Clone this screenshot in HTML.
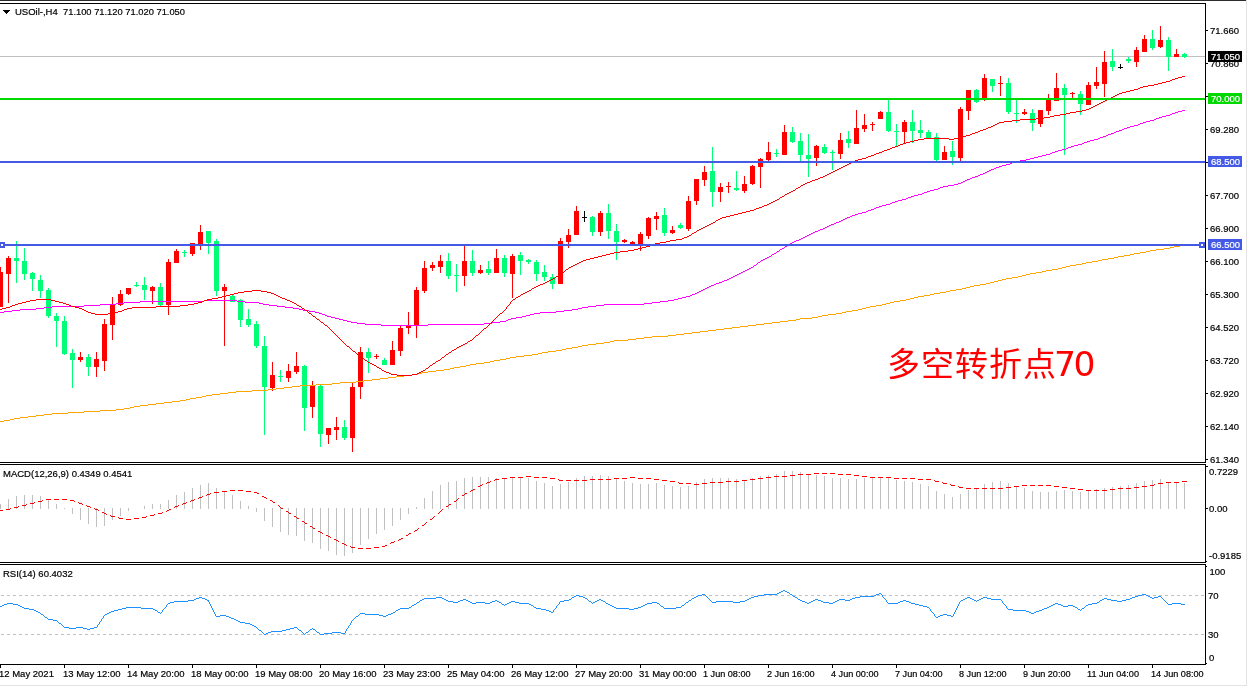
<!DOCTYPE html>
<html><head><meta charset="utf-8"><title>USOil H4</title>
<style>
html,body{margin:0;padding:0;background:#fff;overflow:hidden}
svg{display:block}
text{font-family:'Liberation Sans',sans-serif}
</style></head><body>
<svg width="1248" height="687" viewBox="0 0 1248 687">
<rect width="1248" height="687" fill="#fff"/>
<g shape-rendering="crispEdges">
<rect x="0" y="0" width="1246" height="1" fill="#2c2c2c"/>
<rect x="1246" y="0" width="1" height="686" fill="#e3e3e3"/>
<rect x="0" y="685" width="1246" height="1" fill="#e3e3e3"/>
<rect x="0" y="56" width="1205" height="1" fill="#c0c0c0"/>
<rect x="0" y="267" width="1" height="40" fill="#ff0000"/>
<rect x="-2" y="272" width="5" height="35" fill="#ff0000"/>
<rect x="8" y="256" width="1" height="47" fill="#ff0000"/>
<rect x="6" y="258" width="5" height="16" fill="#ff0000"/>
<rect x="16" y="241" width="1" height="42" fill="#00ff76"/>
<rect x="14" y="258" width="5" height="3" fill="#00ff76"/>
<rect x="24" y="248" width="1" height="32" fill="#00ff76"/>
<rect x="22" y="261" width="5" height="13" fill="#00ff76"/>
<rect x="32" y="272" width="1" height="19" fill="#00ff76"/>
<rect x="30" y="273" width="5" height="6" fill="#00ff76"/>
<rect x="40" y="275" width="1" height="23" fill="#00ff76"/>
<rect x="38" y="280" width="5" height="11" fill="#00ff76"/>
<rect x="48" y="288" width="1" height="30" fill="#00ff76"/>
<rect x="46" y="290" width="5" height="26" fill="#00ff76"/>
<rect x="56" y="313" width="1" height="34" fill="#00ff76"/>
<rect x="54" y="316" width="5" height="5" fill="#00ff76"/>
<rect x="64" y="316" width="1" height="39" fill="#00ff76"/>
<rect x="62" y="321" width="5" height="33" fill="#00ff76"/>
<rect x="72" y="349" width="1" height="39" fill="#00ff76"/>
<rect x="70" y="353" width="5" height="7" fill="#00ff76"/>
<rect x="80" y="352" width="1" height="10" fill="#ff0000"/>
<rect x="78" y="357" width="5" height="3" fill="#ff0000"/>
<rect x="88" y="354" width="1" height="22" fill="#00ff76"/>
<rect x="86" y="357" width="5" height="10" fill="#00ff76"/>
<rect x="96" y="352" width="1" height="25" fill="#ff0000"/>
<rect x="94" y="359" width="5" height="8" fill="#ff0000"/>
<rect x="104" y="319" width="1" height="52" fill="#ff0000"/>
<rect x="102" y="324" width="5" height="37" fill="#ff0000"/>
<rect x="112" y="297" width="1" height="43" fill="#ff0000"/>
<rect x="110" y="305" width="5" height="20" fill="#ff0000"/>
<rect x="120" y="290" width="1" height="16" fill="#ff0000"/>
<rect x="118" y="294" width="5" height="11" fill="#ff0000"/>
<rect x="128" y="288" width="1" height="7" fill="#ff0000"/>
<rect x="126" y="288" width="5" height="6" fill="#ff0000"/>
<rect x="136" y="282" width="1" height="5" fill="#00ff76"/>
<rect x="134" y="285" width="5" height="1" fill="#00ff76"/>
<rect x="144" y="277" width="1" height="23" fill="#00ff76"/>
<rect x="142" y="285" width="5" height="5" fill="#00ff76"/>
<rect x="152" y="286" width="1" height="18" fill="#ff0000"/>
<rect x="150" y="287" width="5" height="4" fill="#ff0000"/>
<rect x="160" y="283" width="1" height="23" fill="#00ff76"/>
<rect x="158" y="287" width="5" height="18" fill="#00ff76"/>
<rect x="168" y="259" width="1" height="56" fill="#ff0000"/>
<rect x="166" y="262" width="5" height="43" fill="#ff0000"/>
<rect x="176" y="249" width="1" height="14" fill="#ff0000"/>
<rect x="174" y="251" width="5" height="12" fill="#ff0000"/>
<rect x="184" y="250" width="1" height="7" fill="#00ff76"/>
<rect x="182" y="252" width="5" height="1" fill="#00ff76"/>
<rect x="192" y="243" width="1" height="13" fill="#ff0000"/>
<rect x="190" y="243" width="5" height="11" fill="#ff0000"/>
<rect x="200" y="225" width="1" height="25" fill="#ff0000"/>
<rect x="198" y="232" width="5" height="12" fill="#ff0000"/>
<rect x="208" y="231" width="1" height="23" fill="#00ff76"/>
<rect x="206" y="231" width="5" height="12" fill="#00ff76"/>
<rect x="216" y="239" width="1" height="57" fill="#00ff76"/>
<rect x="214" y="241" width="5" height="50" fill="#00ff76"/>
<rect x="224" y="284" width="1" height="62" fill="#ff0000"/>
<rect x="222" y="287" width="5" height="4" fill="#ff0000"/>
<rect x="232" y="295" width="1" height="7" fill="#00ff76"/>
<rect x="230" y="296" width="5" height="6" fill="#00ff76"/>
<rect x="240" y="299" width="1" height="28" fill="#00ff76"/>
<rect x="238" y="300" width="5" height="20" fill="#00ff76"/>
<rect x="248" y="309" width="1" height="18" fill="#00ff76"/>
<rect x="246" y="319" width="5" height="6" fill="#00ff76"/>
<rect x="256" y="321" width="1" height="27" fill="#00ff76"/>
<rect x="254" y="324" width="5" height="22" fill="#00ff76"/>
<rect x="264" y="336" width="1" height="99" fill="#00ff76"/>
<rect x="262" y="346" width="5" height="41" fill="#00ff76"/>
<rect x="272" y="362" width="1" height="29" fill="#ff0000"/>
<rect x="270" y="375" width="5" height="13" fill="#ff0000"/>
<rect x="280" y="370" width="1" height="12" fill="#00ff76"/>
<rect x="278" y="376" width="5" height="1" fill="#00ff76"/>
<rect x="288" y="364" width="1" height="18" fill="#ff0000"/>
<rect x="286" y="371" width="5" height="7" fill="#ff0000"/>
<rect x="296" y="352" width="1" height="22" fill="#ff0000"/>
<rect x="294" y="366" width="5" height="6" fill="#ff0000"/>
<rect x="304" y="365" width="1" height="66" fill="#00ff76"/>
<rect x="302" y="366" width="5" height="42" fill="#00ff76"/>
<rect x="312" y="381" width="1" height="37" fill="#ff0000"/>
<rect x="310" y="386" width="5" height="21" fill="#ff0000"/>
<rect x="320" y="385" width="1" height="62" fill="#00ff76"/>
<rect x="318" y="386" width="5" height="48" fill="#00ff76"/>
<rect x="328" y="428" width="1" height="16" fill="#ff0000"/>
<rect x="326" y="428" width="5" height="7" fill="#ff0000"/>
<rect x="336" y="417" width="1" height="23" fill="#ff0000"/>
<rect x="334" y="427" width="5" height="3" fill="#ff0000"/>
<rect x="344" y="420" width="1" height="20" fill="#00ff76"/>
<rect x="342" y="427" width="5" height="11" fill="#00ff76"/>
<rect x="352" y="383" width="1" height="69" fill="#ff0000"/>
<rect x="350" y="387" width="5" height="51" fill="#ff0000"/>
<rect x="360" y="347" width="1" height="52" fill="#ff0000"/>
<rect x="358" y="352" width="5" height="35" fill="#ff0000"/>
<rect x="368" y="348" width="1" height="25" fill="#00ff76"/>
<rect x="366" y="352" width="5" height="6" fill="#00ff76"/>
<rect x="376" y="354" width="1" height="5" fill="#ff0000"/>
<rect x="374" y="356" width="5" height="1" fill="#ff0000"/>
<rect x="384" y="358" width="1" height="7" fill="#00ff76"/>
<rect x="382" y="360" width="5" height="5" fill="#00ff76"/>
<rect x="392" y="341" width="1" height="24" fill="#ff0000"/>
<rect x="390" y="350" width="5" height="15" fill="#ff0000"/>
<rect x="400" y="326" width="1" height="30" fill="#ff0000"/>
<rect x="398" y="328" width="5" height="23" fill="#ff0000"/>
<rect x="408" y="312" width="1" height="22" fill="#ff0000"/>
<rect x="406" y="326" width="5" height="2" fill="#ff0000"/>
<rect x="416" y="287" width="1" height="51" fill="#ff0000"/>
<rect x="414" y="290" width="5" height="36" fill="#ff0000"/>
<rect x="424" y="261" width="1" height="32" fill="#ff0000"/>
<rect x="422" y="268" width="5" height="23" fill="#ff0000"/>
<rect x="432" y="262" width="1" height="9" fill="#ff0000"/>
<rect x="430" y="265" width="5" height="3" fill="#ff0000"/>
<rect x="440" y="255" width="1" height="18" fill="#ff0000"/>
<rect x="438" y="261" width="5" height="6" fill="#ff0000"/>
<rect x="448" y="253" width="1" height="26" fill="#00ff76"/>
<rect x="446" y="261" width="5" height="15" fill="#00ff76"/>
<rect x="456" y="264" width="1" height="28" fill="#00ff76"/>
<rect x="454" y="275" width="5" height="1" fill="#00ff76"/>
<rect x="464" y="246" width="1" height="40" fill="#ff0000"/>
<rect x="462" y="261" width="5" height="15" fill="#ff0000"/>
<rect x="472" y="250" width="1" height="26" fill="#00ff76"/>
<rect x="470" y="261" width="5" height="12" fill="#00ff76"/>
<rect x="480" y="265" width="1" height="9" fill="#ff0000"/>
<rect x="478" y="270" width="5" height="3" fill="#ff0000"/>
<rect x="488" y="261" width="1" height="14" fill="#00ff76"/>
<rect x="486" y="269" width="5" height="4" fill="#00ff76"/>
<rect x="496" y="249" width="1" height="24" fill="#ff0000"/>
<rect x="494" y="258" width="5" height="15" fill="#ff0000"/>
<rect x="504" y="255" width="1" height="22" fill="#00ff76"/>
<rect x="502" y="258" width="5" height="15" fill="#00ff76"/>
<rect x="512" y="254" width="1" height="44" fill="#ff0000"/>
<rect x="510" y="256" width="5" height="18" fill="#ff0000"/>
<rect x="520" y="252" width="1" height="23" fill="#00ff76"/>
<rect x="518" y="255" width="5" height="6" fill="#00ff76"/>
<rect x="528" y="259" width="1" height="5" fill="#00ff76"/>
<rect x="526" y="260" width="5" height="2" fill="#00ff76"/>
<rect x="536" y="260" width="1" height="21" fill="#00ff76"/>
<rect x="534" y="262" width="5" height="12" fill="#00ff76"/>
<rect x="544" y="265" width="1" height="16" fill="#00ff76"/>
<rect x="542" y="272" width="5" height="5" fill="#00ff76"/>
<rect x="552" y="274" width="1" height="15" fill="#00ff76"/>
<rect x="550" y="277" width="5" height="7" fill="#00ff76"/>
<rect x="560" y="238" width="1" height="46" fill="#ff0000"/>
<rect x="558" y="241" width="5" height="43" fill="#ff0000"/>
<rect x="568" y="229" width="1" height="19" fill="#ff0000"/>
<rect x="566" y="235" width="5" height="7" fill="#ff0000"/>
<rect x="576" y="206" width="1" height="29" fill="#ff0000"/>
<rect x="574" y="211" width="5" height="24" fill="#ff0000"/>
<rect x="584" y="211" width="1" height="11" fill="#000000"/>
<rect x="582" y="217" width="5" height="1" fill="#000000"/>
<rect x="592" y="216" width="1" height="20" fill="#00ff76"/>
<rect x="590" y="217" width="5" height="15" fill="#00ff76"/>
<rect x="600" y="211" width="1" height="25" fill="#ff0000"/>
<rect x="598" y="213" width="5" height="19" fill="#ff0000"/>
<rect x="608" y="204" width="1" height="35" fill="#00ff76"/>
<rect x="606" y="213" width="5" height="18" fill="#00ff76"/>
<rect x="616" y="224" width="1" height="36" fill="#00ff76"/>
<rect x="614" y="231" width="5" height="11" fill="#00ff76"/>
<rect x="624" y="239" width="1" height="4" fill="#ff0000"/>
<rect x="622" y="240" width="5" height="2" fill="#ff0000"/>
<rect x="632" y="241" width="1" height="3" fill="#ff0000"/>
<rect x="630" y="242" width="5" height="2" fill="#ff0000"/>
<rect x="640" y="232" width="1" height="19" fill="#ff0000"/>
<rect x="638" y="234" width="5" height="10" fill="#ff0000"/>
<rect x="648" y="217" width="1" height="22" fill="#ff0000"/>
<rect x="646" y="218" width="5" height="18" fill="#ff0000"/>
<rect x="656" y="212" width="1" height="18" fill="#ff0000"/>
<rect x="654" y="216" width="5" height="3" fill="#ff0000"/>
<rect x="664" y="208" width="1" height="28" fill="#00ff76"/>
<rect x="662" y="215" width="5" height="18" fill="#00ff76"/>
<rect x="672" y="226" width="1" height="8" fill="#ff0000"/>
<rect x="670" y="230" width="5" height="3" fill="#ff0000"/>
<rect x="680" y="223" width="1" height="6" fill="#00ff76"/>
<rect x="678" y="225" width="5" height="3" fill="#00ff76"/>
<rect x="688" y="196" width="1" height="35" fill="#ff0000"/>
<rect x="686" y="201" width="5" height="28" fill="#ff0000"/>
<rect x="696" y="179" width="1" height="26" fill="#ff0000"/>
<rect x="694" y="179" width="5" height="22" fill="#ff0000"/>
<rect x="704" y="166" width="1" height="20" fill="#ff0000"/>
<rect x="702" y="172" width="5" height="8" fill="#ff0000"/>
<rect x="712" y="147" width="1" height="60" fill="#00ff76"/>
<rect x="710" y="171" width="5" height="21" fill="#00ff76"/>
<rect x="720" y="183" width="1" height="19" fill="#ff0000"/>
<rect x="718" y="187" width="5" height="5" fill="#ff0000"/>
<rect x="728" y="182" width="1" height="11" fill="#ff0000"/>
<rect x="726" y="186" width="5" height="1" fill="#ff0000"/>
<rect x="736" y="171" width="1" height="20" fill="#00ff76"/>
<rect x="734" y="188" width="5" height="2" fill="#00ff76"/>
<rect x="744" y="176" width="1" height="17" fill="#ff0000"/>
<rect x="742" y="184" width="5" height="7" fill="#ff0000"/>
<rect x="752" y="165" width="1" height="20" fill="#ff0000"/>
<rect x="750" y="166" width="5" height="18" fill="#ff0000"/>
<rect x="760" y="158" width="1" height="30" fill="#ff0000"/>
<rect x="758" y="159" width="5" height="8" fill="#ff0000"/>
<rect x="768" y="142" width="1" height="19" fill="#ff0000"/>
<rect x="766" y="152" width="5" height="8" fill="#ff0000"/>
<rect x="776" y="149" width="1" height="8" fill="#00ff76"/>
<rect x="774" y="153" width="5" height="1" fill="#00ff76"/>
<rect x="784" y="125" width="1" height="30" fill="#ff0000"/>
<rect x="782" y="132" width="5" height="23" fill="#ff0000"/>
<rect x="792" y="127" width="1" height="16" fill="#00ff76"/>
<rect x="790" y="132" width="5" height="10" fill="#00ff76"/>
<rect x="800" y="133" width="1" height="28" fill="#00ff76"/>
<rect x="798" y="141" width="5" height="14" fill="#00ff76"/>
<rect x="808" y="134" width="1" height="43" fill="#00ff76"/>
<rect x="806" y="155" width="5" height="4" fill="#00ff76"/>
<rect x="816" y="145" width="1" height="21" fill="#ff0000"/>
<rect x="814" y="146" width="5" height="12" fill="#ff0000"/>
<rect x="824" y="144" width="1" height="10" fill="#00ff76"/>
<rect x="822" y="147" width="5" height="6" fill="#00ff76"/>
<rect x="832" y="150" width="1" height="20" fill="#00ff76"/>
<rect x="830" y="152" width="5" height="1" fill="#00ff76"/>
<rect x="840" y="133" width="1" height="26" fill="#ff0000"/>
<rect x="838" y="140" width="5" height="14" fill="#ff0000"/>
<rect x="848" y="131" width="1" height="17" fill="#00ff76"/>
<rect x="846" y="139" width="5" height="4" fill="#00ff76"/>
<rect x="856" y="110" width="1" height="34" fill="#ff0000"/>
<rect x="854" y="128" width="5" height="16" fill="#ff0000"/>
<rect x="864" y="114" width="1" height="18" fill="#ff0000"/>
<rect x="862" y="125" width="5" height="4" fill="#ff0000"/>
<rect x="872" y="122" width="1" height="9" fill="#ff0000"/>
<rect x="870" y="124" width="5" height="1" fill="#ff0000"/>
<rect x="880" y="111" width="1" height="8" fill="#ff0000"/>
<rect x="878" y="112" width="5" height="7" fill="#ff0000"/>
<rect x="888" y="100" width="1" height="32" fill="#00ff76"/>
<rect x="886" y="112" width="5" height="19" fill="#00ff76"/>
<rect x="896" y="124" width="1" height="22" fill="#00ff76"/>
<rect x="894" y="131" width="5" height="1" fill="#00ff76"/>
<rect x="904" y="120" width="1" height="23" fill="#ff0000"/>
<rect x="902" y="122" width="5" height="10" fill="#ff0000"/>
<rect x="912" y="110" width="1" height="33" fill="#00ff76"/>
<rect x="910" y="122" width="5" height="9" fill="#00ff76"/>
<rect x="920" y="120" width="1" height="18" fill="#00ff76"/>
<rect x="918" y="130" width="5" height="3" fill="#00ff76"/>
<rect x="928" y="130" width="1" height="8" fill="#00ff76"/>
<rect x="926" y="132" width="5" height="6" fill="#00ff76"/>
<rect x="936" y="133" width="1" height="28" fill="#00ff76"/>
<rect x="934" y="137" width="5" height="23" fill="#00ff76"/>
<rect x="944" y="146" width="1" height="14" fill="#ff0000"/>
<rect x="942" y="152" width="5" height="8" fill="#ff0000"/>
<rect x="952" y="141" width="1" height="24" fill="#00ff76"/>
<rect x="950" y="151" width="5" height="6" fill="#00ff76"/>
<rect x="960" y="107" width="1" height="54" fill="#ff0000"/>
<rect x="958" y="109" width="5" height="49" fill="#ff0000"/>
<rect x="968" y="90" width="1" height="30" fill="#ff0000"/>
<rect x="966" y="90" width="5" height="21" fill="#ff0000"/>
<rect x="976" y="89" width="1" height="14" fill="#00ff76"/>
<rect x="974" y="90" width="5" height="12" fill="#00ff76"/>
<rect x="984" y="74" width="1" height="27" fill="#ff0000"/>
<rect x="982" y="78" width="5" height="21" fill="#ff0000"/>
<rect x="992" y="79" width="1" height="13" fill="#00ff76"/>
<rect x="990" y="79" width="5" height="7" fill="#00ff76"/>
<rect x="1000" y="76" width="1" height="20" fill="#ff0000"/>
<rect x="998" y="83" width="5" height="1" fill="#ff0000"/>
<rect x="1008" y="78" width="1" height="36" fill="#00ff76"/>
<rect x="1006" y="83" width="5" height="29" fill="#00ff76"/>
<rect x="1016" y="100" width="1" height="23" fill="#00ff76"/>
<rect x="1014" y="113" width="5" height="1" fill="#00ff76"/>
<rect x="1024" y="109" width="1" height="6" fill="#ff0000"/>
<rect x="1022" y="112" width="5" height="2" fill="#ff0000"/>
<rect x="1032" y="109" width="1" height="22" fill="#00ff76"/>
<rect x="1030" y="113" width="5" height="10" fill="#00ff76"/>
<rect x="1040" y="110" width="1" height="17" fill="#ff0000"/>
<rect x="1038" y="110" width="5" height="14" fill="#ff0000"/>
<rect x="1048" y="94" width="1" height="21" fill="#ff0000"/>
<rect x="1046" y="100" width="5" height="11" fill="#ff0000"/>
<rect x="1056" y="73" width="1" height="28" fill="#ff0000"/>
<rect x="1054" y="88" width="5" height="13" fill="#ff0000"/>
<rect x="1064" y="84" width="1" height="71" fill="#00ff76"/>
<rect x="1062" y="88" width="5" height="7" fill="#00ff76"/>
<rect x="1072" y="92" width="1" height="6" fill="#ff0000"/>
<rect x="1070" y="93" width="5" height="1" fill="#ff0000"/>
<rect x="1080" y="91" width="1" height="24" fill="#00ff76"/>
<rect x="1078" y="94" width="5" height="10" fill="#00ff76"/>
<rect x="1088" y="82" width="1" height="23" fill="#ff0000"/>
<rect x="1086" y="85" width="5" height="20" fill="#ff0000"/>
<rect x="1096" y="67" width="1" height="22" fill="#ff0000"/>
<rect x="1094" y="82" width="5" height="4" fill="#ff0000"/>
<rect x="1104" y="51" width="1" height="46" fill="#ff0000"/>
<rect x="1102" y="62" width="5" height="22" fill="#ff0000"/>
<rect x="1112" y="49" width="1" height="22" fill="#00ff76"/>
<rect x="1110" y="61" width="5" height="6" fill="#00ff76"/>
<rect x="1120" y="64" width="1" height="5" fill="#000000"/>
<rect x="1118" y="67" width="5" height="1" fill="#000000"/>
<rect x="1128" y="57" width="1" height="6" fill="#00ff76"/>
<rect x="1126" y="59" width="5" height="2" fill="#00ff76"/>
<rect x="1136" y="47" width="1" height="20" fill="#ff0000"/>
<rect x="1134" y="50" width="5" height="12" fill="#ff0000"/>
<rect x="1144" y="35" width="1" height="17" fill="#ff0000"/>
<rect x="1142" y="39" width="5" height="13" fill="#ff0000"/>
<rect x="1152" y="30" width="1" height="20" fill="#00ff76"/>
<rect x="1150" y="39" width="5" height="9" fill="#00ff76"/>
<rect x="1160" y="26" width="1" height="22" fill="#ff0000"/>
<rect x="1158" y="40" width="5" height="7" fill="#ff0000"/>
<rect x="1168" y="37" width="1" height="34" fill="#00ff76"/>
<rect x="1166" y="40" width="5" height="17" fill="#00ff76"/>
<rect x="1176" y="49" width="1" height="8" fill="#ff0000"/>
<rect x="1174" y="54" width="5" height="3" fill="#ff0000"/>
<rect x="1184" y="53" width="1" height="5" fill="#00ff76"/>
<rect x="1182" y="54" width="5" height="3" fill="#00ff76"/>
<rect x="0" y="421" width="4" height="1" fill="#ffa500"/>
<rect x="4" y="420" width="6" height="1" fill="#ffa500"/>
<rect x="10" y="419" width="4" height="1" fill="#ffa500"/>
<rect x="14" y="418" width="6" height="1" fill="#ffa500"/>
<rect x="20" y="417" width="8" height="1" fill="#ffa500"/>
<rect x="28" y="416" width="8" height="1" fill="#ffa500"/>
<rect x="36" y="415" width="8" height="1" fill="#ffa500"/>
<rect x="44" y="414" width="8" height="1" fill="#ffa500"/>
<rect x="52" y="413" width="16" height="1" fill="#ffa500"/>
<rect x="68" y="412" width="16" height="1" fill="#ffa500"/>
<rect x="84" y="411" width="16" height="1" fill="#ffa500"/>
<rect x="100" y="410" width="16" height="1" fill="#ffa500"/>
<rect x="116" y="409" width="8" height="1" fill="#ffa500"/>
<rect x="124" y="408" width="6" height="1" fill="#ffa500"/>
<rect x="130" y="407" width="4" height="1" fill="#ffa500"/>
<rect x="134" y="406" width="6" height="1" fill="#ffa500"/>
<rect x="140" y="405" width="8" height="1" fill="#ffa500"/>
<rect x="148" y="404" width="8" height="1" fill="#ffa500"/>
<rect x="156" y="403" width="8" height="1" fill="#ffa500"/>
<rect x="164" y="402" width="8" height="1" fill="#ffa500"/>
<rect x="172" y="401" width="8" height="1" fill="#ffa500"/>
<rect x="180" y="400" width="6" height="1" fill="#ffa500"/>
<rect x="186" y="399" width="4" height="1" fill="#ffa500"/>
<rect x="190" y="398" width="6" height="1" fill="#ffa500"/>
<rect x="196" y="397" width="6" height="1" fill="#ffa500"/>
<rect x="202" y="396" width="4" height="1" fill="#ffa500"/>
<rect x="206" y="395" width="6" height="1" fill="#ffa500"/>
<rect x="212" y="394" width="8" height="1" fill="#ffa500"/>
<rect x="220" y="393" width="8" height="1" fill="#ffa500"/>
<rect x="228" y="392" width="8" height="1" fill="#ffa500"/>
<rect x="236" y="391" width="16" height="1" fill="#ffa500"/>
<rect x="252" y="390" width="16" height="1" fill="#ffa500"/>
<rect x="268" y="389" width="8" height="1" fill="#ffa500"/>
<rect x="276" y="388" width="8" height="1" fill="#ffa500"/>
<rect x="284" y="387" width="8" height="1" fill="#ffa500"/>
<rect x="292" y="386" width="8" height="1" fill="#ffa500"/>
<rect x="300" y="385" width="16" height="1" fill="#ffa500"/>
<rect x="316" y="384" width="16" height="1" fill="#ffa500"/>
<rect x="332" y="383" width="8" height="1" fill="#ffa500"/>
<rect x="340" y="382" width="16" height="1" fill="#ffa500"/>
<rect x="356" y="381" width="8" height="1" fill="#ffa500"/>
<rect x="364" y="380" width="8" height="1" fill="#ffa500"/>
<rect x="372" y="379" width="8" height="1" fill="#ffa500"/>
<rect x="380" y="378" width="8" height="1" fill="#ffa500"/>
<rect x="388" y="377" width="8" height="1" fill="#ffa500"/>
<rect x="396" y="376" width="8" height="1" fill="#ffa500"/>
<rect x="404" y="375" width="8" height="1" fill="#ffa500"/>
<rect x="412" y="374" width="6" height="1" fill="#ffa500"/>
<rect x="418" y="373" width="4" height="1" fill="#ffa500"/>
<rect x="422" y="372" width="6" height="1" fill="#ffa500"/>
<rect x="428" y="371" width="8" height="1" fill="#ffa500"/>
<rect x="436" y="370" width="8" height="1" fill="#ffa500"/>
<rect x="444" y="369" width="6" height="1" fill="#ffa500"/>
<rect x="450" y="368" width="4" height="1" fill="#ffa500"/>
<rect x="454" y="367" width="6" height="1" fill="#ffa500"/>
<rect x="460" y="366" width="6" height="1" fill="#ffa500"/>
<rect x="466" y="365" width="4" height="1" fill="#ffa500"/>
<rect x="470" y="364" width="6" height="1" fill="#ffa500"/>
<rect x="476" y="363" width="8" height="1" fill="#ffa500"/>
<rect x="484" y="362" width="6" height="1" fill="#ffa500"/>
<rect x="490" y="361" width="4" height="1" fill="#ffa500"/>
<rect x="494" y="360" width="6" height="1" fill="#ffa500"/>
<rect x="500" y="359" width="6" height="1" fill="#ffa500"/>
<rect x="506" y="358" width="4" height="1" fill="#ffa500"/>
<rect x="510" y="357" width="6" height="1" fill="#ffa500"/>
<rect x="516" y="356" width="8" height="1" fill="#ffa500"/>
<rect x="524" y="355" width="8" height="1" fill="#ffa500"/>
<rect x="532" y="354" width="6" height="1" fill="#ffa500"/>
<rect x="538" y="353" width="4" height="1" fill="#ffa500"/>
<rect x="542" y="352" width="6" height="1" fill="#ffa500"/>
<rect x="548" y="351" width="8" height="1" fill="#ffa500"/>
<rect x="556" y="350" width="6" height="1" fill="#ffa500"/>
<rect x="562" y="349" width="4" height="1" fill="#ffa500"/>
<rect x="566" y="348" width="6" height="1" fill="#ffa500"/>
<rect x="572" y="347" width="6" height="1" fill="#ffa500"/>
<rect x="578" y="346" width="4" height="1" fill="#ffa500"/>
<rect x="582" y="345" width="6" height="1" fill="#ffa500"/>
<rect x="588" y="344" width="8" height="1" fill="#ffa500"/>
<rect x="596" y="343" width="8" height="1" fill="#ffa500"/>
<rect x="604" y="342" width="6" height="1" fill="#ffa500"/>
<rect x="610" y="341" width="4" height="1" fill="#ffa500"/>
<rect x="614" y="340" width="14" height="1" fill="#ffa500"/>
<rect x="628" y="339" width="8" height="1" fill="#ffa500"/>
<rect x="636" y="338" width="8" height="1" fill="#ffa500"/>
<rect x="644" y="337" width="8" height="1" fill="#ffa500"/>
<rect x="652" y="336" width="16" height="1" fill="#ffa500"/>
<rect x="668" y="335" width="8" height="1" fill="#ffa500"/>
<rect x="676" y="334" width="8" height="1" fill="#ffa500"/>
<rect x="684" y="333" width="8" height="1" fill="#ffa500"/>
<rect x="692" y="332" width="8" height="1" fill="#ffa500"/>
<rect x="700" y="331" width="8" height="1" fill="#ffa500"/>
<rect x="708" y="330" width="8" height="1" fill="#ffa500"/>
<rect x="716" y="329" width="8" height="1" fill="#ffa500"/>
<rect x="724" y="328" width="8" height="1" fill="#ffa500"/>
<rect x="732" y="327" width="8" height="1" fill="#ffa500"/>
<rect x="740" y="326" width="8" height="1" fill="#ffa500"/>
<rect x="748" y="325" width="8" height="1" fill="#ffa500"/>
<rect x="756" y="324" width="8" height="1" fill="#ffa500"/>
<rect x="764" y="323" width="8" height="1" fill="#ffa500"/>
<rect x="772" y="322" width="8" height="1" fill="#ffa500"/>
<rect x="780" y="321" width="8" height="1" fill="#ffa500"/>
<rect x="788" y="320" width="8" height="1" fill="#ffa500"/>
<rect x="796" y="319" width="4" height="1" fill="#ffa500"/>
<rect x="800" y="318" width="12" height="1" fill="#ffa500"/>
<rect x="812" y="317" width="6" height="1" fill="#ffa500"/>
<rect x="818" y="316" width="4" height="1" fill="#ffa500"/>
<rect x="822" y="315" width="6" height="1" fill="#ffa500"/>
<rect x="828" y="314" width="8" height="1" fill="#ffa500"/>
<rect x="836" y="313" width="6" height="1" fill="#ffa500"/>
<rect x="842" y="312" width="4" height="1" fill="#ffa500"/>
<rect x="846" y="311" width="6" height="1" fill="#ffa500"/>
<rect x="852" y="310" width="6" height="1" fill="#ffa500"/>
<rect x="858" y="309" width="4" height="1" fill="#ffa500"/>
<rect x="862" y="308" width="4" height="1" fill="#ffa500"/>
<rect x="866" y="307" width="4" height="1" fill="#ffa500"/>
<rect x="870" y="306" width="6" height="1" fill="#ffa500"/>
<rect x="876" y="305" width="6" height="1" fill="#ffa500"/>
<rect x="882" y="304" width="4" height="1" fill="#ffa500"/>
<rect x="886" y="303" width="4" height="1" fill="#ffa500"/>
<rect x="890" y="302" width="4" height="1" fill="#ffa500"/>
<rect x="894" y="301" width="6" height="1" fill="#ffa500"/>
<rect x="900" y="300" width="6" height="1" fill="#ffa500"/>
<rect x="906" y="299" width="4" height="1" fill="#ffa500"/>
<rect x="910" y="298" width="4" height="1" fill="#ffa500"/>
<rect x="914" y="297" width="4" height="1" fill="#ffa500"/>
<rect x="918" y="296" width="6" height="1" fill="#ffa500"/>
<rect x="924" y="295" width="6" height="1" fill="#ffa500"/>
<rect x="930" y="294" width="4" height="1" fill="#ffa500"/>
<rect x="934" y="293" width="6" height="1" fill="#ffa500"/>
<rect x="940" y="292" width="6" height="1" fill="#ffa500"/>
<rect x="946" y="291" width="4" height="1" fill="#ffa500"/>
<rect x="950" y="290" width="6" height="1" fill="#ffa500"/>
<rect x="956" y="289" width="6" height="1" fill="#ffa500"/>
<rect x="962" y="288" width="4" height="1" fill="#ffa500"/>
<rect x="966" y="287" width="4" height="1" fill="#ffa500"/>
<rect x="970" y="286" width="4" height="1" fill="#ffa500"/>
<rect x="974" y="285" width="6" height="1" fill="#ffa500"/>
<rect x="980" y="284" width="6" height="1" fill="#ffa500"/>
<rect x="986" y="283" width="4" height="1" fill="#ffa500"/>
<rect x="990" y="282" width="4" height="1" fill="#ffa500"/>
<rect x="994" y="281" width="4" height="1" fill="#ffa500"/>
<rect x="998" y="280" width="4" height="1" fill="#ffa500"/>
<rect x="1002" y="279" width="4" height="1" fill="#ffa500"/>
<rect x="1006" y="278" width="6" height="1" fill="#ffa500"/>
<rect x="1012" y="277" width="6" height="1" fill="#ffa500"/>
<rect x="1018" y="276" width="4" height="1" fill="#ffa500"/>
<rect x="1022" y="275" width="4" height="1" fill="#ffa500"/>
<rect x="1026" y="274" width="4" height="1" fill="#ffa500"/>
<rect x="1030" y="273" width="6" height="1" fill="#ffa500"/>
<rect x="1036" y="272" width="6" height="1" fill="#ffa500"/>
<rect x="1042" y="271" width="4" height="1" fill="#ffa500"/>
<rect x="1046" y="270" width="6" height="1" fill="#ffa500"/>
<rect x="1052" y="269" width="6" height="1" fill="#ffa500"/>
<rect x="1058" y="268" width="4" height="1" fill="#ffa500"/>
<rect x="1062" y="267" width="4" height="1" fill="#ffa500"/>
<rect x="1066" y="266" width="4" height="1" fill="#ffa500"/>
<rect x="1070" y="265" width="6" height="1" fill="#ffa500"/>
<rect x="1076" y="264" width="6" height="1" fill="#ffa500"/>
<rect x="1082" y="263" width="4" height="1" fill="#ffa500"/>
<rect x="1086" y="262" width="6" height="1" fill="#ffa500"/>
<rect x="1092" y="261" width="6" height="1" fill="#ffa500"/>
<rect x="1098" y="260" width="4" height="1" fill="#ffa500"/>
<rect x="1102" y="259" width="6" height="1" fill="#ffa500"/>
<rect x="1108" y="258" width="6" height="1" fill="#ffa500"/>
<rect x="1114" y="257" width="4" height="1" fill="#ffa500"/>
<rect x="1118" y="256" width="6" height="1" fill="#ffa500"/>
<rect x="1124" y="255" width="6" height="1" fill="#ffa500"/>
<rect x="1130" y="254" width="4" height="1" fill="#ffa500"/>
<rect x="1134" y="253" width="6" height="1" fill="#ffa500"/>
<rect x="1140" y="252" width="6" height="1" fill="#ffa500"/>
<rect x="1146" y="251" width="4" height="1" fill="#ffa500"/>
<rect x="1150" y="250" width="6" height="1" fill="#ffa500"/>
<rect x="1156" y="249" width="8" height="1" fill="#ffa500"/>
<rect x="1164" y="248" width="6" height="1" fill="#ffa500"/>
<rect x="1170" y="247" width="4" height="1" fill="#ffa500"/>
<rect x="1174" y="246" width="6" height="1" fill="#ffa500"/>
<rect x="1180" y="245" width="5" height="1" fill="#ffa500"/>
<path d="M1182,110h3v1h-3zM1178,111h4v1h-4zM1175,112h3v1h-3zM1172,113h3v1h-3zM1170,114h2v1h-2zM1166,115h4v1h-4zM1162,116h4v1h-4zM1159,117h3v1h-3zM1156,118h3v1h-3zM1154,119h2v1h-2zM1150,120h4v1h-4zM1146,121h4v1h-4zM1143,122h3v1h-3zM1140,123h3v1h-3zM1138,124h2v1h-2zM1134,125h4v1h-4zM1130,126h4v1h-4zM1127,127h3v1h-3zM1124,128h3v1h-3zM1122,129h2v1h-2zM1119,130h3v1h-3zM1116,131h3v1h-3zM1114,132h2v1h-2zM1111,133h3v1h-3zM1108,134h3v1h-3zM1106,135h2v1h-2zM1103,136h3v1h-3zM1100,137h3v1h-3zM1098,138h2v1h-2zM1094,139h4v1h-4zM1090,140h4v1h-4zM1087,141h3v1h-3zM1084,142h3v1h-3zM1082,143h2v1h-2zM1078,144h4v1h-4zM1074,145h4v1h-4zM1071,146h3v1h-3zM1068,147h3v1h-3zM1066,148h2v1h-2zM1062,149h4v1h-4zM1058,150h4v1h-4zM1055,151h3v1h-3zM1052,152h3v1h-3zM1050,153h2v1h-2zM1046,154h4v1h-4zM1042,155h4v1h-4zM1038,156h4v1h-4zM1034,157h4v1h-4zM1030,158h4v1h-4zM1026,159h4v1h-4zM1020,160h6v1h-6zM1015,161h5v1h-5zM1012,162h3v1h-3zM1010,163h2v1h-2zM1006,164h4v1h-4zM1002,165h4v1h-4zM999,166h3v1h-3zM996,167h3v1h-3zM994,168h2v1h-2zM991,169h3v1h-3zM989,170h2v1h-2zM987,171h2v1h-2zM985,172h2v1h-2zM983,173h2v1h-2zM980,174h3v1h-3zM978,175h2v1h-2zM975,176h3v1h-3zM972,177h3v1h-3zM970,178h2v1h-2zM967,179h3v1h-3zM965,180h2v1h-2zM963,181h2v1h-2zM961,182h2v1h-2zM958,183h3v1h-3zM954,184h4v1h-4zM948,185h6v1h-6zM943,186h5v1h-5zM940,187h3v1h-3zM938,188h2v1h-2zM934,189h4v1h-4zM930,190h4v1h-4zM927,191h3v1h-3zM924,192h3v1h-3zM922,193h2v1h-2zM918,194h4v1h-4zM914,195h4v1h-4zM911,196h3v1h-3zM908,197h3v1h-3zM906,198h2v1h-2zM902,199h4v1h-4zM898,200h4v1h-4zM895,201h3v1h-3zM892,202h3v1h-3zM890,203h2v1h-2zM886,204h4v1h-4zM882,205h4v1h-4zM879,206h3v1h-3zM876,207h3v1h-3zM874,208h2v1h-2zM871,209h3v1h-3zM868,210h3v1h-3zM866,211h2v1h-2zM862,212h4v1h-4zM858,213h4v1h-4zM855,214h3v1h-3zM852,215h3v1h-3zM850,216h2v1h-2zM847,217h3v1h-3zM845,218h2v1h-2zM843,219h2v1h-2zM841,220h2v1h-2zM839,221h2v1h-2zM836,222h3v1h-3zM834,223h2v1h-2zM831,224h3v1h-3zM829,225h2v1h-2zM827,226h2v1h-2zM825,227h2v1h-2zM823,228h2v1h-2zM820,229h3v1h-3zM818,230h2v1h-2zM815,231h3v1h-3zM813,232h2v1h-2zM811,233h2v1h-2zM809,234h2v1h-2zM807,235h2v1h-2zM805,236h2v1h-2zM803,237h2v1h-2zM801,238h2v1h-2zM799,239h2v1h-2zM796,240h3v1h-3zM794,241h2v1h-2zM792,242h2v1h-2zM790,243h2v1h-2zM788,244h2v1h-2zM787,245h1v1h-1zM785,246h2v1h-2zM784,247h1v1h-1zM782,248h2v1h-2zM780,249h2v1h-2zM779,250h1v1h-1zM777,251h2v1h-2zM776,252h1v1h-1zM774,253h2v1h-2zM772,254h2v1h-2zM771,255h1v1h-1zM769,256h2v1h-2zM767,257h2v1h-2zM765,258h2v1h-2zM763,259h2v1h-2zM761,260h2v1h-2zM760,261h1v1h-1zM758,262h2v1h-2zM757,263h1v1h-1zM756,264h1v1h-1zM754,265h2v1h-2zM753,266h1v1h-1zM751,267h2v1h-2zM749,268h2v1h-2zM747,269h2v1h-2zM745,270h2v1h-2zM743,271h2v1h-2zM741,272h2v1h-2zM739,273h2v1h-2zM737,274h2v1h-2zM735,275h2v1h-2zM733,276h2v1h-2zM731,277h2v1h-2zM729,278h2v1h-2zM727,279h2v1h-2zM724,280h3v1h-3zM722,281h2v1h-2zM719,282h3v1h-3zM716,283h3v1h-3zM714,284h2v1h-2zM711,285h3v1h-3zM709,286h2v1h-2zM707,287h2v1h-2zM705,288h2v1h-2zM703,289h2v1h-2zM701,290h2v1h-2zM699,291h2v1h-2zM697,292h2v1h-2zM695,293h2v1h-2zM692,294h3v1h-3zM690,295h2v1h-2zM686,296h4v1h-4zM682,297h4v1h-4zM678,298h4v1h-4zM674,299h4v1h-4zM204,300h33v1h-33zM668,300h6v1h-6zM140,301h64v1h-64zM237,301h8v1h-8zM660,301h8v1h-8zM124,302h16v1h-16zM245,302h14v1h-14zM652,302h8v1h-8zM116,303h8v1h-8zM259,303h4v1h-4zM644,303h8v1h-8zM100,304h16v1h-16zM263,304h6v1h-6zM604,304h40v1h-40zM84,305h16v1h-16zM269,305h8v1h-8zM596,305h8v1h-8zM52,306h32v1h-32zM277,306h8v1h-8zM588,306h8v1h-8zM44,307h8v1h-8zM285,307h8v1h-8zM582,307h6v1h-6zM36,308h8v1h-8zM293,308h6v1h-6zM578,308h4v1h-4zM20,309h16v1h-16zM299,309h4v1h-4zM572,309h6v1h-6zM12,310h8v1h-8zM303,310h6v1h-6zM564,310h8v1h-8zM4,311h8v1h-8zM309,311h6v1h-6zM556,311h8v1h-8zM0,312h4v1h-4zM315,312h4v1h-4zM540,312h16v1h-16zM319,313h3v1h-3zM534,313h6v1h-6zM322,314h3v1h-3zM530,314h4v1h-4zM325,315h2v1h-2zM526,315h4v1h-4zM327,316h4v1h-4zM522,316h4v1h-4zM331,317h4v1h-4zM516,317h6v1h-6zM335,318h4v1h-4zM511,318h5v1h-5zM339,319h4v1h-4zM508,319h3v1h-3zM343,320h4v1h-4zM506,320h2v1h-2zM347,321h4v1h-4zM500,321h6v1h-6zM351,322h6v1h-6zM492,322h8v1h-8zM357,323h8v1h-8zM484,323h8v1h-8zM365,324h16v1h-16zM428,324h56v1h-56zM381,325h47v1h-47z" fill="#ff00ff"/>
<path d="M1182,76h3v1h-3zM1178,77h4v1h-4zM1175,78h3v1h-3zM1172,79h3v1h-3zM1170,80h2v1h-2zM1166,81h4v1h-4zM1162,82h4v1h-4zM1158,83h4v1h-4zM1154,84h4v1h-4zM1148,85h6v1h-6zM1143,86h5v1h-5zM1140,87h3v1h-3zM1138,88h2v1h-2zM1134,89h4v1h-4zM1130,90h4v1h-4zM1126,91h4v1h-4zM1122,92h4v1h-4zM1119,93h3v1h-3zM1117,94h2v1h-2zM1115,95h2v1h-2zM1113,96h2v1h-2zM1111,97h2v1h-2zM1109,98h2v1h-2zM1107,99h2v1h-2zM1105,100h2v1h-2zM1103,101h2v1h-2zM1101,102h2v1h-2zM1099,103h2v1h-2zM1097,104h2v1h-2zM1095,105h2v1h-2zM1093,106h2v1h-2zM1091,107h2v1h-2zM1089,108h2v1h-2zM1086,109h3v1h-3zM1082,110h4v1h-4zM1076,111h6v1h-6zM1070,112h6v1h-6zM1066,113h4v1h-4zM1060,114h6v1h-6zM1054,115h6v1h-6zM1050,116h4v1h-4zM1044,117h6v1h-6zM1036,118h8v1h-8zM1020,119h16v1h-16zM1012,120h8v1h-8zM1004,121h8v1h-8zM999,122h5v1h-5zM997,123h2v1h-2zM995,124h2v1h-2zM993,125h2v1h-2zM991,126h2v1h-2zM988,127h3v1h-3zM986,128h2v1h-2zM983,129h3v1h-3zM980,130h3v1h-3zM978,131h2v1h-2zM975,132h3v1h-3zM972,133h3v1h-3zM970,134h2v1h-2zM966,135h4v1h-4zM962,136h4v1h-4zM958,137h4v1h-4zM924,138h25v1h-25zM954,138h4v1h-4zM918,139h6v1h-6zM949,139h5v1h-5zM914,140h4v1h-4zM910,141h4v1h-4zM906,142h4v1h-4zM903,143h3v1h-3zM900,144h3v1h-3zM898,145h2v1h-2zM895,146h3v1h-3zM892,147h3v1h-3zM890,148h2v1h-2zM887,149h3v1h-3zM884,150h3v1h-3zM882,151h2v1h-2zM879,152h3v1h-3zM876,153h3v1h-3zM874,154h2v1h-2zM871,155h3v1h-3zM868,156h3v1h-3zM866,157h2v1h-2zM862,158h4v1h-4zM858,159h4v1h-4zM855,160h3v1h-3zM853,161h2v1h-2zM851,162h2v1h-2zM849,163h2v1h-2zM847,164h2v1h-2zM845,165h2v1h-2zM843,166h2v1h-2zM841,167h2v1h-2zM839,168h2v1h-2zM837,169h2v1h-2zM835,170h2v1h-2zM833,171h2v1h-2zM831,172h2v1h-2zM829,173h2v1h-2zM827,174h2v1h-2zM825,175h2v1h-2zM823,176h2v1h-2zM820,177h3v1h-3zM818,178h2v1h-2zM815,179h3v1h-3zM812,180h3v1h-3zM810,181h2v1h-2zM807,182h3v1h-3zM805,183h2v1h-2zM803,184h2v1h-2zM801,185h2v1h-2zM800,186h1v1h-1zM798,187h2v1h-2zM796,188h2v1h-2zM795,189h1v1h-1zM793,190h2v1h-2zM791,191h2v1h-2zM789,192h2v1h-2zM787,193h2v1h-2zM785,194h2v1h-2zM784,195h1v1h-1zM782,196h2v1h-2zM780,197h2v1h-2zM779,198h1v1h-1zM777,199h2v1h-2zM775,200h2v1h-2zM773,201h2v1h-2zM771,202h2v1h-2zM769,203h2v1h-2zM767,204h2v1h-2zM764,205h3v1h-3zM762,206h2v1h-2zM759,207h3v1h-3zM756,208h3v1h-3zM754,209h2v1h-2zM750,210h4v1h-4zM746,211h4v1h-4zM742,212h4v1h-4zM738,213h4v1h-4zM734,214h4v1h-4zM730,215h4v1h-4zM726,216h4v1h-4zM722,217h4v1h-4zM720,218h2v1h-2zM718,219h2v1h-2zM716,220h2v1h-2zM715,221h1v1h-1zM713,222h2v1h-2zM711,223h2v1h-2zM709,224h2v1h-2zM707,225h2v1h-2zM705,226h2v1h-2zM703,227h2v1h-2zM701,228h2v1h-2zM699,229h2v1h-2zM697,230h2v1h-2zM696,231h1v1h-1zM694,232h2v1h-2zM692,233h2v1h-2zM691,234h1v1h-1zM689,235h2v1h-2zM687,236h2v1h-2zM684,237h3v1h-3zM682,238h2v1h-2zM676,239h6v1h-6zM670,240h6v1h-6zM666,241h4v1h-4zM660,242h6v1h-6zM655,243h5v1h-5zM652,244h3v1h-3zM650,245h2v1h-2zM646,246h4v1h-4zM642,247h4v1h-4zM638,248h4v1h-4zM634,249h4v1h-4zM628,250h6v1h-6zM620,251h8v1h-8zM614,252h6v1h-6zM610,253h4v1h-4zM606,254h4v1h-4zM602,255h4v1h-4zM598,256h4v1h-4zM594,257h4v1h-4zM590,258h4v1h-4zM586,259h4v1h-4zM583,260h3v1h-3zM581,261h2v1h-2zM579,262h2v1h-2zM577,263h2v1h-2zM575,264h2v1h-2zM573,265h2v1h-2zM571,266h2v1h-2zM569,267h2v1h-2zM568,268h1v1h-1zM566,269h2v1h-2zM565,270h1v1h-1zM564,271h1v1h-1zM562,272h2v1h-2zM561,273h1v1h-1zM560,274h1v1h-1zM558,275h2v1h-2zM556,276h2v1h-2zM555,277h1v1h-1zM553,278h2v1h-2zM551,279h2v1h-2zM549,280h2v1h-2zM547,281h2v1h-2zM545,282h2v1h-2zM543,283h2v1h-2zM540,284h3v1h-3zM538,285h2v1h-2zM536,286h2v1h-2zM534,287h2v1h-2zM532,288h2v1h-2zM531,289h1v1h-1zM252,290h9v1h-9zM529,290h2v1h-2zM244,291h8v1h-8zM261,291h6v1h-6zM527,291h2v1h-2zM238,292h6v1h-6zM267,292h4v1h-4zM525,292h2v1h-2zM234,293h4v1h-4zM271,293h3v1h-3zM523,293h2v1h-2zM230,294h4v1h-4zM274,294h2v1h-2zM521,294h2v1h-2zM226,295h4v1h-4zM276,295h2v1h-2zM520,295h1v1h-1zM222,296h4v1h-4zM278,296h2v1h-2zM518,296h2v1h-2zM218,297h4v1h-4zM280,297h2v1h-2zM516,297h2v1h-2zM212,298h6v1h-6zM282,298h3v1h-3zM515,298h1v1h-1zM36,299h15v1h-15zM207,299h5v1h-5zM285,299h2v1h-2zM513,299h2v1h-2zM30,300h6v1h-6zM51,300h4v1h-4zM204,300h3v1h-3zM287,300h3v1h-3zM512,300h1v1h-1zM26,301h4v1h-4zM55,301h4v1h-4zM202,301h2v1h-2zM290,301h2v1h-2zM511,301h1v1h-1zM22,302h4v1h-4zM59,302h4v1h-4zM198,302h4v1h-4zM292,302h2v1h-2zM510,302h1v1h-1zM18,303h4v1h-4zM63,303h3v1h-3zM194,303h4v1h-4zM294,303h2v1h-2zM510,303h1v1h-1zM15,304h3v1h-3zM66,304h3v1h-3zM188,304h6v1h-6zM296,304h1v1h-1zM509,304h1v1h-1zM12,305h3v1h-3zM69,305h2v1h-2zM180,305h8v1h-8zM297,305h2v1h-2zM508,305h1v1h-1zM10,306h2v1h-2zM71,306h4v1h-4zM156,306h24v1h-24zM299,306h2v1h-2zM507,306h1v1h-1zM6,307h4v1h-4zM75,307h4v1h-4zM132,307h24v1h-24zM301,307h1v1h-1zM506,307h1v1h-1zM2,308h4v1h-4zM79,308h3v1h-3zM127,308h5v1h-5zM302,308h2v1h-2zM506,308h1v1h-1zM0,309h2v1h-2zM82,309h2v1h-2zM124,309h3v1h-3zM304,309h1v1h-1zM505,309h1v1h-1zM84,310h2v1h-2zM122,310h2v1h-2zM305,310h2v1h-2zM504,310h1v1h-1zM86,311h2v1h-2zM118,311h4v1h-4zM307,311h1v1h-1zM503,311h1v1h-1zM88,312h3v1h-3zM114,312h4v1h-4zM308,312h1v1h-1zM502,312h1v1h-1zM91,313h4v1h-4zM108,313h6v1h-6zM309,313h2v1h-2zM500,313h2v1h-2zM95,314h13v1h-13zM311,314h1v1h-1zM499,314h1v1h-1zM312,315h1v1h-1zM498,315h1v1h-1zM313,316h2v1h-2zM497,316h1v1h-1zM315,317h1v1h-1zM496,317h1v1h-1zM316,318h1v1h-1zM495,318h1v1h-1zM317,319h2v1h-2zM494,319h1v1h-1zM319,320h1v1h-1zM493,320h1v1h-1zM320,321h1v1h-1zM492,321h1v1h-1zM321,322h2v1h-2zM491,322h1v1h-1zM323,323h1v1h-1zM490,323h1v1h-1zM324,324h1v1h-1zM489,324h1v1h-1zM325,325h2v1h-2zM488,325h1v1h-1zM327,326h1v1h-1zM487,326h1v1h-1zM328,327h1v1h-1zM486,327h1v1h-1zM329,328h1v1h-1zM484,328h2v1h-2zM330,329h1v1h-1zM483,329h1v1h-1zM331,330h1v1h-1zM482,330h1v1h-1zM332,331h1v1h-1zM481,331h1v1h-1zM333,332h1v1h-1zM480,332h1v1h-1zM334,333h1v1h-1zM479,333h1v1h-1zM335,334h1v1h-1zM478,334h1v1h-1zM336,335h1v1h-1zM476,335h2v1h-2zM337,336h1v1h-1zM475,336h1v1h-1zM338,337h1v1h-1zM474,337h1v1h-1zM339,338h1v1h-1zM473,338h1v1h-1zM340,339h1v1h-1zM472,339h1v1h-1zM341,340h1v1h-1zM470,340h2v1h-2zM342,341h1v1h-1zM468,341h2v1h-2zM343,342h1v1h-1zM467,342h1v1h-1zM344,343h1v1h-1zM465,343h2v1h-2zM345,344h1v1h-1zM463,344h2v1h-2zM346,345h1v1h-1zM461,345h2v1h-2zM347,346h2v1h-2zM459,346h2v1h-2zM349,347h1v1h-1zM457,347h2v1h-2zM350,348h1v1h-1zM456,348h1v1h-1zM351,349h1v1h-1zM454,349h2v1h-2zM352,350h1v1h-1zM452,350h2v1h-2zM353,351h2v1h-2zM451,351h1v1h-1zM355,352h1v1h-1zM449,352h2v1h-2zM356,353h1v1h-1zM448,353h1v1h-1zM357,354h2v1h-2zM446,354h2v1h-2zM359,355h1v1h-1zM445,355h1v1h-1zM360,356h1v1h-1zM444,356h1v1h-1zM361,357h2v1h-2zM442,357h2v1h-2zM363,358h1v1h-1zM441,358h1v1h-1zM364,359h1v1h-1zM440,359h1v1h-1zM365,360h2v1h-2zM438,360h2v1h-2zM367,361h1v1h-1zM436,361h2v1h-2zM368,362h2v1h-2zM435,362h1v1h-1zM370,363h2v1h-2zM433,363h2v1h-2zM372,364h2v1h-2zM432,364h1v1h-1zM374,365h2v1h-2zM430,365h2v1h-2zM376,366h1v1h-1zM429,366h1v1h-1zM377,367h2v1h-2zM428,367h1v1h-1zM379,368h2v1h-2zM426,368h2v1h-2zM381,369h1v1h-1zM425,369h1v1h-1zM382,370h2v1h-2zM423,370h2v1h-2zM384,371h2v1h-2zM421,371h2v1h-2zM386,372h3v1h-3zM419,372h2v1h-2zM389,373h2v1h-2zM417,373h2v1h-2zM391,374h6v1h-6zM412,374h5v1h-5zM397,375h15v1h-15z" fill="#ff0000"/>
<rect x="0" y="98" width="1205" height="2" fill="#00d800"/>
<rect x="0" y="161" width="1205" height="2" fill="#4459e6"/>
<rect x="0" y="244" width="1205" height="2" fill="#4459e6"/>
<rect x="0" y="242" width="5" height="6" fill="#4459e6"/>
<rect x="1" y="244" width="2" height="2" fill="#ffffff"/>
<rect x="1199" y="242" width="6" height="6" fill="#4459e6"/>
<rect x="1201" y="244" width="2" height="2" fill="#ffffff"/>
<rect x="0" y="3" width="1206" height="1" fill="#000"/>
<rect x="1205" y="3" width="1" height="460" fill="#000"/>
<rect x="1205" y="464" width="1" height="99" fill="#000"/>
<rect x="1205" y="564" width="1" height="101" fill="#000"/>
<rect x="0" y="462" width="1205" height="1" fill="#000"/>
<rect x="0" y="464" width="1205" height="1" fill="#000"/>
<rect x="0" y="562" width="1205" height="1" fill="#000"/>
<rect x="0" y="564" width="1205" height="1" fill="#000"/>
<rect x="0" y="664" width="1206" height="1" fill="#000"/>
<rect x="0" y="504" width="1" height="5" fill="#c0c0c0"/>
<rect x="8" y="499" width="1" height="10" fill="#c0c0c0"/>
<rect x="16" y="496" width="1" height="13" fill="#c0c0c0"/>
<rect x="24" y="495" width="1" height="14" fill="#c0c0c0"/>
<rect x="32" y="495" width="1" height="14" fill="#c0c0c0"/>
<rect x="40" y="496" width="1" height="13" fill="#c0c0c0"/>
<rect x="48" y="500" width="1" height="9" fill="#c0c0c0"/>
<rect x="56" y="504" width="1" height="5" fill="#c0c0c0"/>
<rect x="64" y="508" width="1" height="1" fill="#c0c0c0"/>
<rect x="72" y="508" width="1" height="6" fill="#c0c0c0"/>
<rect x="80" y="508" width="1" height="12" fill="#c0c0c0"/>
<rect x="88" y="508" width="1" height="16" fill="#c0c0c0"/>
<rect x="96" y="508" width="1" height="19" fill="#c0c0c0"/>
<rect x="104" y="508" width="1" height="18" fill="#c0c0c0"/>
<rect x="112" y="508" width="1" height="12" fill="#c0c0c0"/>
<rect x="120" y="508" width="1" height="8" fill="#c0c0c0"/>
<rect x="128" y="508" width="1" height="3" fill="#c0c0c0"/>
<rect x="144" y="506" width="1" height="3" fill="#c0c0c0"/>
<rect x="152" y="504" width="1" height="5" fill="#c0c0c0"/>
<rect x="160" y="504" width="1" height="5" fill="#c0c0c0"/>
<rect x="168" y="500" width="1" height="9" fill="#c0c0c0"/>
<rect x="176" y="495" width="1" height="14" fill="#c0c0c0"/>
<rect x="184" y="492" width="1" height="17" fill="#c0c0c0"/>
<rect x="192" y="488" width="1" height="21" fill="#c0c0c0"/>
<rect x="200" y="485" width="1" height="24" fill="#c0c0c0"/>
<rect x="208" y="483" width="1" height="26" fill="#c0c0c0"/>
<rect x="216" y="488" width="1" height="21" fill="#c0c0c0"/>
<rect x="224" y="491" width="1" height="18" fill="#c0c0c0"/>
<rect x="232" y="495" width="1" height="14" fill="#c0c0c0"/>
<rect x="240" y="501" width="1" height="8" fill="#c0c0c0"/>
<rect x="248" y="506" width="1" height="3" fill="#c0c0c0"/>
<rect x="256" y="508" width="1" height="4" fill="#c0c0c0"/>
<rect x="264" y="508" width="1" height="13" fill="#c0c0c0"/>
<rect x="272" y="508" width="1" height="19" fill="#c0c0c0"/>
<rect x="280" y="508" width="1" height="24" fill="#c0c0c0"/>
<rect x="288" y="508" width="1" height="27" fill="#c0c0c0"/>
<rect x="296" y="508" width="1" height="28" fill="#c0c0c0"/>
<rect x="304" y="508" width="1" height="33" fill="#c0c0c0"/>
<rect x="312" y="508" width="1" height="35" fill="#c0c0c0"/>
<rect x="320" y="508" width="1" height="41" fill="#c0c0c0"/>
<rect x="328" y="508" width="1" height="43" fill="#c0c0c0"/>
<rect x="336" y="508" width="1" height="47" fill="#c0c0c0"/>
<rect x="344" y="508" width="1" height="48" fill="#c0c0c0"/>
<rect x="352" y="508" width="1" height="45" fill="#c0c0c0"/>
<rect x="360" y="508" width="1" height="37" fill="#c0c0c0"/>
<rect x="368" y="508" width="1" height="31" fill="#c0c0c0"/>
<rect x="376" y="508" width="1" height="26" fill="#c0c0c0"/>
<rect x="384" y="508" width="1" height="22" fill="#c0c0c0"/>
<rect x="392" y="508" width="1" height="18" fill="#c0c0c0"/>
<rect x="400" y="508" width="1" height="12" fill="#c0c0c0"/>
<rect x="408" y="508" width="1" height="6" fill="#c0c0c0"/>
<rect x="416" y="507" width="1" height="2" fill="#c0c0c0"/>
<rect x="424" y="498" width="1" height="11" fill="#c0c0c0"/>
<rect x="432" y="491" width="1" height="18" fill="#c0c0c0"/>
<rect x="440" y="485" width="1" height="24" fill="#c0c0c0"/>
<rect x="448" y="482" width="1" height="27" fill="#c0c0c0"/>
<rect x="456" y="481" width="1" height="28" fill="#c0c0c0"/>
<rect x="464" y="478" width="1" height="31" fill="#c0c0c0"/>
<rect x="472" y="477" width="1" height="32" fill="#c0c0c0"/>
<rect x="480" y="477" width="1" height="32" fill="#c0c0c0"/>
<rect x="488" y="477" width="1" height="32" fill="#c0c0c0"/>
<rect x="496" y="478" width="1" height="31" fill="#c0c0c0"/>
<rect x="504" y="478" width="1" height="31" fill="#c0c0c0"/>
<rect x="512" y="478" width="1" height="31" fill="#c0c0c0"/>
<rect x="520" y="478" width="1" height="31" fill="#c0c0c0"/>
<rect x="528" y="478" width="1" height="31" fill="#c0c0c0"/>
<rect x="536" y="481" width="1" height="28" fill="#c0c0c0"/>
<rect x="544" y="483" width="1" height="26" fill="#c0c0c0"/>
<rect x="552" y="486" width="1" height="23" fill="#c0c0c0"/>
<rect x="560" y="484" width="1" height="25" fill="#c0c0c0"/>
<rect x="568" y="482" width="1" height="27" fill="#c0c0c0"/>
<rect x="576" y="478" width="1" height="31" fill="#c0c0c0"/>
<rect x="584" y="476" width="1" height="33" fill="#c0c0c0"/>
<rect x="592" y="476" width="1" height="33" fill="#c0c0c0"/>
<rect x="600" y="475" width="1" height="34" fill="#c0c0c0"/>
<rect x="608" y="476" width="1" height="33" fill="#c0c0c0"/>
<rect x="616" y="479" width="1" height="30" fill="#c0c0c0"/>
<rect x="624" y="481" width="1" height="28" fill="#c0c0c0"/>
<rect x="632" y="483" width="1" height="26" fill="#c0c0c0"/>
<rect x="640" y="484" width="1" height="25" fill="#c0c0c0"/>
<rect x="648" y="484" width="1" height="25" fill="#c0c0c0"/>
<rect x="656" y="483" width="1" height="26" fill="#c0c0c0"/>
<rect x="664" y="485" width="1" height="24" fill="#c0c0c0"/>
<rect x="672" y="486" width="1" height="23" fill="#c0c0c0"/>
<rect x="680" y="487" width="1" height="22" fill="#c0c0c0"/>
<rect x="688" y="486" width="1" height="23" fill="#c0c0c0"/>
<rect x="696" y="482" width="1" height="27" fill="#c0c0c0"/>
<rect x="704" y="479" width="1" height="30" fill="#c0c0c0"/>
<rect x="712" y="478" width="1" height="31" fill="#c0c0c0"/>
<rect x="720" y="478" width="1" height="31" fill="#c0c0c0"/>
<rect x="728" y="478" width="1" height="31" fill="#c0c0c0"/>
<rect x="736" y="479" width="1" height="30" fill="#c0c0c0"/>
<rect x="744" y="480" width="1" height="29" fill="#c0c0c0"/>
<rect x="752" y="478" width="1" height="31" fill="#c0c0c0"/>
<rect x="760" y="476" width="1" height="33" fill="#c0c0c0"/>
<rect x="768" y="475" width="1" height="34" fill="#c0c0c0"/>
<rect x="776" y="474" width="1" height="35" fill="#c0c0c0"/>
<rect x="784" y="471" width="1" height="38" fill="#c0c0c0"/>
<rect x="792" y="471" width="1" height="38" fill="#c0c0c0"/>
<rect x="800" y="472" width="1" height="37" fill="#c0c0c0"/>
<rect x="808" y="474" width="1" height="35" fill="#c0c0c0"/>
<rect x="816" y="475" width="1" height="34" fill="#c0c0c0"/>
<rect x="824" y="476" width="1" height="33" fill="#c0c0c0"/>
<rect x="832" y="478" width="1" height="31" fill="#c0c0c0"/>
<rect x="840" y="478" width="1" height="31" fill="#c0c0c0"/>
<rect x="848" y="479" width="1" height="30" fill="#c0c0c0"/>
<rect x="856" y="479" width="1" height="30" fill="#c0c0c0"/>
<rect x="864" y="478" width="1" height="31" fill="#c0c0c0"/>
<rect x="872" y="478" width="1" height="31" fill="#c0c0c0"/>
<rect x="880" y="478" width="1" height="31" fill="#c0c0c0"/>
<rect x="888" y="478" width="1" height="31" fill="#c0c0c0"/>
<rect x="896" y="480" width="1" height="29" fill="#c0c0c0"/>
<rect x="904" y="481" width="1" height="28" fill="#c0c0c0"/>
<rect x="912" y="482" width="1" height="27" fill="#c0c0c0"/>
<rect x="920" y="484" width="1" height="25" fill="#c0c0c0"/>
<rect x="928" y="486" width="1" height="23" fill="#c0c0c0"/>
<rect x="936" y="491" width="1" height="18" fill="#c0c0c0"/>
<rect x="944" y="494" width="1" height="15" fill="#c0c0c0"/>
<rect x="952" y="497" width="1" height="12" fill="#c0c0c0"/>
<rect x="960" y="494" width="1" height="15" fill="#c0c0c0"/>
<rect x="968" y="490" width="1" height="19" fill="#c0c0c0"/>
<rect x="976" y="489" width="1" height="20" fill="#c0c0c0"/>
<rect x="984" y="484" width="1" height="25" fill="#c0c0c0"/>
<rect x="992" y="482" width="1" height="27" fill="#c0c0c0"/>
<rect x="1000" y="481" width="1" height="28" fill="#c0c0c0"/>
<rect x="1008" y="483" width="1" height="26" fill="#c0c0c0"/>
<rect x="1016" y="486" width="1" height="23" fill="#c0c0c0"/>
<rect x="1024" y="488" width="1" height="21" fill="#c0c0c0"/>
<rect x="1032" y="491" width="1" height="18" fill="#c0c0c0"/>
<rect x="1040" y="492" width="1" height="17" fill="#c0c0c0"/>
<rect x="1048" y="492" width="1" height="17" fill="#c0c0c0"/>
<rect x="1056" y="491" width="1" height="18" fill="#c0c0c0"/>
<rect x="1064" y="490" width="1" height="19" fill="#c0c0c0"/>
<rect x="1072" y="491" width="1" height="18" fill="#c0c0c0"/>
<rect x="1080" y="492" width="1" height="17" fill="#c0c0c0"/>
<rect x="1088" y="490" width="1" height="19" fill="#c0c0c0"/>
<rect x="1096" y="489" width="1" height="20" fill="#c0c0c0"/>
<rect x="1104" y="488" width="1" height="21" fill="#c0c0c0"/>
<rect x="1112" y="487" width="1" height="22" fill="#c0c0c0"/>
<rect x="1120" y="486" width="1" height="23" fill="#c0c0c0"/>
<rect x="1128" y="485" width="1" height="24" fill="#c0c0c0"/>
<rect x="1136" y="483" width="1" height="26" fill="#c0c0c0"/>
<rect x="1144" y="481" width="1" height="28" fill="#c0c0c0"/>
<rect x="1152" y="480" width="1" height="29" fill="#c0c0c0"/>
<rect x="1160" y="479" width="1" height="30" fill="#c0c0c0"/>
<rect x="1168" y="482" width="1" height="27" fill="#c0c0c0"/>
<rect x="1176" y="483" width="1" height="26" fill="#c0c0c0"/>
<rect x="1184" y="483" width="1" height="26" fill="#c0c0c0"/>
<path d="M0,510h1v1h-1zM1,510h1v1h-1zM2,510h1v1h-1zM6,509h1v1h-1zM7,509h1v1h-1zM8,509h1v1h-1zM9,509h1v1h-1zM10,508h1v1h-1zM14,507h1v1h-1zM15,507h1v1h-1zM16,507h1v1h-1zM17,507h1v1h-1zM18,506h1v1h-1zM22,505h1v1h-1zM23,505h1v1h-1zM24,505h1v1h-1zM25,505h1v1h-1zM26,504h1v1h-1zM30,503h1v1h-1zM31,503h1v1h-1zM32,503h1v1h-1zM33,503h1v1h-1zM34,502h1v1h-1zM38,501h1v1h-1zM39,501h1v1h-1zM40,501h1v1h-1zM41,501h1v1h-1zM42,500h1v1h-1zM46,499h1v1h-1zM47,499h1v1h-1zM48,499h1v1h-1zM49,499h1v1h-1zM50,499h1v1h-1zM54,499h1v1h-1zM55,499h1v1h-1zM56,499h1v1h-1zM57,499h1v1h-1zM58,499h1v1h-1zM62,499h1v1h-1zM63,499h1v1h-1zM64,499h1v1h-1zM65,499h1v1h-1zM66,499h1v1h-1zM70,500h1v1h-1zM71,500h1v1h-1zM72,500h1v1h-1zM73,500h1v1h-1zM74,501h1v1h-1zM78,502h1v1h-1zM79,503h1v1h-1zM80,503h1v1h-1zM81,503h1v1h-1zM82,504h1v1h-1zM86,505h1v1h-1zM87,506h1v1h-1zM88,506h1v1h-1zM89,506h1v1h-1zM90,507h1v1h-1zM94,508h1v1h-1zM95,509h1v1h-1zM96,509h1v1h-1zM97,509h1v1h-1zM98,510h1v1h-1zM102,512h1v1h-1zM103,512h1v1h-1zM104,513h1v1h-1zM105,513h1v1h-1zM106,514h1v1h-1zM110,515h1v1h-1zM111,516h1v1h-1zM112,516h1v1h-1zM113,516h1v1h-1zM114,516h1v1h-1zM118,517h1v1h-1zM119,518h1v1h-1zM120,518h1v1h-1zM121,518h1v1h-1zM122,518h1v1h-1zM126,519h1v1h-1zM127,519h1v1h-1zM128,519h1v1h-1zM129,519h1v1h-1zM130,519h1v1h-1zM134,518h1v1h-1zM135,518h1v1h-1zM136,518h1v1h-1zM137,518h1v1h-1zM138,518h1v1h-1zM142,517h1v1h-1zM143,517h1v1h-1zM144,517h1v1h-1zM145,517h1v1h-1zM146,516h1v1h-1zM150,515h1v1h-1zM151,515h1v1h-1zM152,515h1v1h-1zM153,515h1v1h-1zM154,514h1v1h-1zM158,513h1v1h-1zM159,513h1v1h-1zM160,513h1v1h-1zM161,513h1v1h-1zM162,512h1v1h-1zM166,511h1v1h-1zM167,510h1v1h-1zM168,510h1v1h-1zM169,509h1v1h-1zM170,509h1v1h-1zM174,507h1v1h-1zM175,506h1v1h-1zM176,506h1v1h-1zM177,506h1v1h-1zM178,505h1v1h-1zM182,504h1v1h-1zM183,503h1v1h-1zM184,503h1v1h-1zM185,503h1v1h-1zM186,502h1v1h-1zM190,501h1v1h-1zM191,500h1v1h-1zM192,500h1v1h-1zM193,500h1v1h-1zM194,499h1v1h-1zM198,498h1v1h-1zM199,497h1v1h-1zM200,497h1v1h-1zM201,497h1v1h-1zM202,496h1v1h-1zM206,495h1v1h-1zM207,494h1v1h-1zM208,494h1v1h-1zM209,494h1v1h-1zM210,493h1v1h-1zM214,492h1v1h-1zM215,492h1v1h-1zM216,492h1v1h-1zM217,492h1v1h-1zM218,492h1v1h-1zM222,491h1v1h-1zM223,491h1v1h-1zM224,491h1v1h-1zM225,491h1v1h-1zM226,491h1v1h-1zM230,490h1v1h-1zM231,490h1v1h-1zM232,490h1v1h-1zM233,490h1v1h-1zM234,490h1v1h-1zM238,490h1v1h-1zM239,490h1v1h-1zM240,490h1v1h-1zM241,490h1v1h-1zM242,490h1v1h-1zM246,491h1v1h-1zM247,491h1v1h-1zM248,491h1v1h-1zM249,491h1v1h-1zM250,491h1v1h-1zM254,492h1v1h-1zM255,492h1v1h-1zM256,492h1v1h-1zM257,493h1v1h-1zM258,493h1v1h-1zM262,496h1v1h-1zM263,496h1v1h-1zM264,497h1v1h-1zM265,497h1v1h-1zM266,498h1v1h-1zM270,500h1v1h-1zM271,500h1v1h-1zM272,501h1v1h-1zM273,502h1v1h-1zM274,502h1v1h-1zM278,505h1v1h-1zM279,506h1v1h-1zM280,507h1v1h-1zM281,508h1v1h-1zM282,508h1v1h-1zM286,511h1v1h-1zM287,511h1v1h-1zM288,512h1v1h-1zM289,513h1v1h-1zM290,513h1v1h-1zM294,516h1v1h-1zM295,516h1v1h-1zM296,517h1v1h-1zM297,518h1v1h-1zM298,518h1v1h-1zM302,521h1v1h-1zM303,521h1v1h-1zM304,522h1v1h-1zM305,523h1v1h-1zM306,523h1v1h-1zM310,526h1v1h-1zM311,526h1v1h-1zM312,527h1v1h-1zM313,528h1v1h-1zM314,528h1v1h-1zM318,531h1v1h-1zM319,531h1v1h-1zM320,532h1v1h-1zM321,532h1v1h-1zM322,533h1v1h-1zM326,535h1v1h-1zM327,535h1v1h-1zM328,536h1v1h-1zM329,536h1v1h-1zM330,537h1v1h-1zM334,539h1v1h-1zM335,539h1v1h-1zM336,540h1v1h-1zM337,540h1v1h-1zM338,541h1v1h-1zM342,543h1v1h-1zM343,543h1v1h-1zM344,544h1v1h-1zM345,544h1v1h-1zM346,545h1v1h-1zM350,546h1v1h-1zM351,547h1v1h-1zM352,547h1v1h-1zM353,547h1v1h-1zM354,547h1v1h-1zM358,548h1v1h-1zM359,548h1v1h-1zM360,548h1v1h-1zM361,548h1v1h-1zM362,548h1v1h-1zM366,548h1v1h-1zM367,548h1v1h-1zM368,548h1v1h-1zM369,548h1v1h-1zM370,548h1v1h-1zM374,547h1v1h-1zM375,547h1v1h-1zM376,547h1v1h-1zM377,547h1v1h-1zM378,547h1v1h-1zM382,546h1v1h-1zM383,546h1v1h-1zM384,546h1v1h-1zM385,545h1v1h-1zM386,545h1v1h-1zM390,543h1v1h-1zM391,542h1v1h-1zM392,542h1v1h-1zM393,542h1v1h-1zM394,541h1v1h-1zM398,540h1v1h-1zM399,539h1v1h-1zM400,539h1v1h-1zM401,538h1v1h-1zM402,538h1v1h-1zM406,535h1v1h-1zM407,535h1v1h-1zM408,534h1v1h-1zM409,533h1v1h-1zM410,533h1v1h-1zM414,531h1v1h-1zM415,530h1v1h-1zM416,530h1v1h-1zM417,529h1v1h-1zM418,528h1v1h-1zM422,525h1v1h-1zM423,525h1v1h-1zM424,524h1v1h-1zM425,523h1v1h-1zM426,522h1v1h-1zM430,519h1v1h-1zM431,519h1v1h-1zM432,518h1v1h-1zM433,517h1v1h-1zM434,516h1v1h-1zM438,513h1v1h-1zM439,512h1v1h-1zM440,511h1v1h-1zM441,510h1v1h-1zM442,509h1v1h-1zM446,506h1v1h-1zM447,506h1v1h-1zM448,505h1v1h-1zM449,504h1v1h-1zM450,504h1v1h-1zM454,501h1v1h-1zM455,501h1v1h-1zM456,500h1v1h-1zM457,499h1v1h-1zM458,498h1v1h-1zM462,495h1v1h-1zM463,495h1v1h-1zM464,494h1v1h-1zM465,493h1v1h-1zM466,493h1v1h-1zM470,491h1v1h-1zM471,490h1v1h-1zM472,490h1v1h-1zM473,489h1v1h-1zM474,489h1v1h-1zM478,486h1v1h-1zM479,486h1v1h-1zM480,485h1v1h-1zM481,485h1v1h-1zM482,484h1v1h-1zM486,483h1v1h-1zM487,482h1v1h-1zM488,482h1v1h-1zM489,482h1v1h-1zM490,481h1v1h-1zM494,480h1v1h-1zM495,479h1v1h-1zM496,479h1v1h-1zM497,479h1v1h-1zM498,479h1v1h-1zM502,478h1v1h-1zM503,478h1v1h-1zM504,478h1v1h-1zM505,478h1v1h-1zM506,478h1v1h-1zM510,477h1v1h-1zM511,477h1v1h-1zM512,477h1v1h-1zM513,477h1v1h-1zM514,477h1v1h-1zM518,477h1v1h-1zM519,477h1v1h-1zM520,477h1v1h-1zM521,477h1v1h-1zM522,477h1v1h-1zM526,476h1v1h-1zM527,476h1v1h-1zM528,476h1v1h-1zM529,476h1v1h-1zM530,476h1v1h-1zM534,477h1v1h-1zM535,477h1v1h-1zM536,477h1v1h-1zM537,477h1v1h-1zM538,477h1v1h-1zM542,477h1v1h-1zM543,477h1v1h-1zM544,477h1v1h-1zM545,477h1v1h-1zM546,477h1v1h-1zM550,478h1v1h-1zM551,478h1v1h-1zM552,478h1v1h-1zM553,478h1v1h-1zM554,478h1v1h-1zM558,479h1v1h-1zM559,480h1v1h-1zM560,480h1v1h-1zM561,480h1v1h-1zM562,480h1v1h-1zM566,480h1v1h-1zM567,480h1v1h-1zM568,480h1v1h-1zM569,480h1v1h-1zM570,480h1v1h-1zM574,480h1v1h-1zM575,480h1v1h-1zM576,480h1v1h-1zM577,480h1v1h-1zM578,480h1v1h-1zM582,480h1v1h-1zM583,480h1v1h-1zM584,480h1v1h-1zM585,480h1v1h-1zM586,480h1v1h-1zM590,479h1v1h-1zM591,479h1v1h-1zM592,479h1v1h-1zM593,479h1v1h-1zM594,479h1v1h-1zM598,479h1v1h-1zM599,479h1v1h-1zM600,479h1v1h-1zM601,479h1v1h-1zM602,479h1v1h-1zM606,479h1v1h-1zM607,479h1v1h-1zM608,479h1v1h-1zM609,479h1v1h-1zM610,479h1v1h-1zM614,478h1v1h-1zM615,478h1v1h-1zM616,478h1v1h-1zM617,478h1v1h-1zM618,478h1v1h-1zM622,478h1v1h-1zM623,478h1v1h-1zM624,478h1v1h-1zM625,478h1v1h-1zM626,478h1v1h-1zM630,477h1v1h-1zM631,477h1v1h-1zM632,477h1v1h-1zM633,477h1v1h-1zM634,477h1v1h-1zM638,478h1v1h-1zM639,478h1v1h-1zM640,478h1v1h-1zM641,478h1v1h-1zM642,478h1v1h-1zM646,478h1v1h-1zM647,478h1v1h-1zM648,478h1v1h-1zM649,478h1v1h-1zM650,478h1v1h-1zM654,479h1v1h-1zM655,479h1v1h-1zM656,479h1v1h-1zM657,479h1v1h-1zM658,479h1v1h-1zM662,480h1v1h-1zM663,480h1v1h-1zM664,480h1v1h-1zM665,480h1v1h-1zM666,480h1v1h-1zM670,481h1v1h-1zM671,481h1v1h-1zM672,481h1v1h-1zM673,481h1v1h-1zM674,481h1v1h-1zM678,482h1v1h-1zM679,483h1v1h-1zM680,483h1v1h-1zM681,483h1v1h-1zM682,483h1v1h-1zM686,483h1v1h-1zM687,483h1v1h-1zM688,483h1v1h-1zM689,483h1v1h-1zM690,483h1v1h-1zM694,484h1v1h-1zM695,484h1v1h-1zM696,484h1v1h-1zM697,484h1v1h-1zM698,484h1v1h-1zM702,483h1v1h-1zM703,483h1v1h-1zM704,483h1v1h-1zM705,483h1v1h-1zM706,483h1v1h-1zM710,482h1v1h-1zM711,482h1v1h-1zM712,482h1v1h-1zM713,482h1v1h-1zM714,482h1v1h-1zM718,482h1v1h-1zM719,482h1v1h-1zM720,482h1v1h-1zM721,482h1v1h-1zM722,482h1v1h-1zM726,481h1v1h-1zM727,481h1v1h-1zM728,481h1v1h-1zM729,481h1v1h-1zM730,481h1v1h-1zM734,481h1v1h-1zM735,481h1v1h-1zM736,481h1v1h-1zM737,481h1v1h-1zM738,481h1v1h-1zM742,480h1v1h-1zM743,480h1v1h-1zM744,480h1v1h-1zM745,480h1v1h-1zM746,480h1v1h-1zM750,479h1v1h-1zM751,479h1v1h-1zM752,479h1v1h-1zM753,479h1v1h-1zM754,479h1v1h-1zM758,478h1v1h-1zM759,478h1v1h-1zM760,478h1v1h-1zM761,478h1v1h-1zM762,478h1v1h-1zM766,477h1v1h-1zM767,477h1v1h-1zM768,477h1v1h-1zM769,477h1v1h-1zM770,477h1v1h-1zM774,476h1v1h-1zM775,476h1v1h-1zM776,476h1v1h-1zM777,476h1v1h-1zM778,476h1v1h-1zM782,476h1v1h-1zM783,476h1v1h-1zM784,476h1v1h-1zM785,476h1v1h-1zM786,476h1v1h-1zM790,475h1v1h-1zM791,475h1v1h-1zM792,475h1v1h-1zM793,475h1v1h-1zM794,475h1v1h-1zM798,474h1v1h-1zM799,474h1v1h-1zM800,474h1v1h-1zM801,474h1v1h-1zM802,474h1v1h-1zM806,474h1v1h-1zM807,474h1v1h-1zM808,474h1v1h-1zM809,474h1v1h-1zM810,474h1v1h-1zM814,473h1v1h-1zM815,473h1v1h-1zM816,473h1v1h-1zM817,473h1v1h-1zM818,473h1v1h-1zM822,473h1v1h-1zM823,473h1v1h-1zM824,473h1v1h-1zM825,473h1v1h-1zM826,473h1v1h-1zM830,473h1v1h-1zM831,473h1v1h-1zM832,473h1v1h-1zM833,473h1v1h-1zM834,473h1v1h-1zM838,474h1v1h-1zM839,474h1v1h-1zM840,474h1v1h-1zM841,474h1v1h-1zM842,474h1v1h-1zM846,474h1v1h-1zM847,474h1v1h-1zM848,474h1v1h-1zM849,474h1v1h-1zM850,474h1v1h-1zM854,475h1v1h-1zM855,475h1v1h-1zM856,475h1v1h-1zM857,475h1v1h-1zM858,475h1v1h-1zM862,476h1v1h-1zM863,476h1v1h-1zM864,476h1v1h-1zM865,476h1v1h-1zM866,476h1v1h-1zM870,477h1v1h-1zM871,477h1v1h-1zM872,477h1v1h-1zM873,477h1v1h-1zM874,477h1v1h-1zM878,477h1v1h-1zM879,477h1v1h-1zM880,477h1v1h-1zM881,477h1v1h-1zM882,477h1v1h-1zM886,477h1v1h-1zM887,477h1v1h-1zM888,477h1v1h-1zM889,477h1v1h-1zM890,477h1v1h-1zM894,478h1v1h-1zM895,478h1v1h-1zM896,478h1v1h-1zM897,478h1v1h-1zM898,478h1v1h-1zM902,478h1v1h-1zM903,478h1v1h-1zM904,478h1v1h-1zM905,478h1v1h-1zM906,478h1v1h-1zM910,478h1v1h-1zM911,478h1v1h-1zM912,478h1v1h-1zM913,478h1v1h-1zM914,478h1v1h-1zM918,479h1v1h-1zM919,479h1v1h-1zM920,479h1v1h-1zM921,479h1v1h-1zM922,479h1v1h-1zM926,479h1v1h-1zM927,479h1v1h-1zM928,479h1v1h-1zM929,479h1v1h-1zM930,479h1v1h-1zM934,480h1v1h-1zM935,481h1v1h-1zM936,481h1v1h-1zM937,481h1v1h-1zM938,481h1v1h-1zM942,482h1v1h-1zM943,483h1v1h-1zM944,483h1v1h-1zM945,483h1v1h-1zM946,483h1v1h-1zM950,484h1v1h-1zM951,485h1v1h-1zM952,485h1v1h-1zM953,485h1v1h-1zM954,485h1v1h-1zM958,486h1v1h-1zM959,487h1v1h-1zM960,487h1v1h-1zM961,487h1v1h-1zM962,487h1v1h-1zM966,488h1v1h-1zM967,488h1v1h-1zM968,488h1v1h-1zM969,488h1v1h-1zM970,488h1v1h-1zM974,488h1v1h-1zM975,488h1v1h-1zM976,488h1v1h-1zM977,488h1v1h-1zM978,488h1v1h-1zM982,488h1v1h-1zM983,488h1v1h-1zM984,488h1v1h-1zM985,488h1v1h-1zM986,488h1v1h-1zM990,488h1v1h-1zM991,488h1v1h-1zM992,488h1v1h-1zM993,488h1v1h-1zM994,488h1v1h-1zM998,488h1v1h-1zM999,488h1v1h-1zM1000,488h1v1h-1zM1001,488h1v1h-1zM1002,488h1v1h-1zM1006,487h1v1h-1zM1007,487h1v1h-1zM1008,487h1v1h-1zM1009,487h1v1h-1zM1010,487h1v1h-1zM1014,486h1v1h-1zM1015,486h1v1h-1zM1016,486h1v1h-1zM1017,486h1v1h-1zM1018,486h1v1h-1zM1022,485h1v1h-1zM1023,485h1v1h-1zM1024,485h1v1h-1zM1025,485h1v1h-1zM1026,485h1v1h-1zM1030,485h1v1h-1zM1031,485h1v1h-1zM1032,485h1v1h-1zM1033,485h1v1h-1zM1034,485h1v1h-1zM1038,485h1v1h-1zM1039,485h1v1h-1zM1040,485h1v1h-1zM1041,485h1v1h-1zM1042,485h1v1h-1zM1046,485h1v1h-1zM1047,485h1v1h-1zM1048,485h1v1h-1zM1049,485h1v1h-1zM1050,485h1v1h-1zM1054,486h1v1h-1zM1055,486h1v1h-1zM1056,486h1v1h-1zM1057,486h1v1h-1zM1058,486h1v1h-1zM1062,487h1v1h-1zM1063,487h1v1h-1zM1064,487h1v1h-1zM1065,487h1v1h-1zM1066,487h1v1h-1zM1070,488h1v1h-1zM1071,488h1v1h-1zM1072,488h1v1h-1zM1073,488h1v1h-1zM1074,488h1v1h-1zM1078,489h1v1h-1zM1079,489h1v1h-1zM1080,489h1v1h-1zM1081,489h1v1h-1zM1082,489h1v1h-1zM1086,490h1v1h-1zM1087,490h1v1h-1zM1088,490h1v1h-1zM1089,490h1v1h-1zM1090,490h1v1h-1zM1094,490h1v1h-1zM1095,490h1v1h-1zM1096,490h1v1h-1zM1097,490h1v1h-1zM1098,490h1v1h-1zM1102,490h1v1h-1zM1103,490h1v1h-1zM1104,490h1v1h-1zM1105,490h1v1h-1zM1106,490h1v1h-1zM1110,489h1v1h-1zM1111,489h1v1h-1zM1112,489h1v1h-1zM1113,489h1v1h-1zM1114,489h1v1h-1zM1118,488h1v1h-1zM1119,488h1v1h-1zM1120,488h1v1h-1zM1121,488h1v1h-1zM1122,488h1v1h-1zM1126,488h1v1h-1zM1127,488h1v1h-1zM1128,488h1v1h-1zM1129,488h1v1h-1zM1130,488h1v1h-1zM1134,487h1v1h-1zM1135,487h1v1h-1zM1136,487h1v1h-1zM1137,487h1v1h-1zM1138,487h1v1h-1zM1142,486h1v1h-1zM1143,486h1v1h-1zM1144,486h1v1h-1zM1145,486h1v1h-1zM1146,486h1v1h-1zM1150,485h1v1h-1zM1151,485h1v1h-1zM1152,485h1v1h-1zM1153,485h1v1h-1zM1154,484h1v1h-1zM1158,483h1v1h-1zM1159,483h1v1h-1zM1160,483h1v1h-1zM1161,483h1v1h-1zM1162,483h1v1h-1zM1166,482h1v1h-1zM1167,482h1v1h-1zM1168,482h1v1h-1zM1169,482h1v1h-1zM1170,482h1v1h-1zM1174,482h1v1h-1zM1175,482h1v1h-1zM1176,482h1v1h-1zM1177,482h1v1h-1zM1178,482h1v1h-1zM1182,481h1v1h-1zM1183,481h1v1h-1zM1184,481h1v1h-1zM1185,481h1v1h-1zM1186,481h1v1h-1z" fill="#ff0000"/>
<rect x="1" y="595" width="3" height="1" fill="#c0c0c0"/>
<rect x="7" y="595" width="3" height="1" fill="#c0c0c0"/>
<rect x="13" y="595" width="3" height="1" fill="#c0c0c0"/>
<rect x="19" y="595" width="3" height="1" fill="#c0c0c0"/>
<rect x="25" y="595" width="3" height="1" fill="#c0c0c0"/>
<rect x="31" y="595" width="3" height="1" fill="#c0c0c0"/>
<rect x="37" y="595" width="3" height="1" fill="#c0c0c0"/>
<rect x="43" y="595" width="3" height="1" fill="#c0c0c0"/>
<rect x="49" y="595" width="3" height="1" fill="#c0c0c0"/>
<rect x="55" y="595" width="3" height="1" fill="#c0c0c0"/>
<rect x="61" y="595" width="3" height="1" fill="#c0c0c0"/>
<rect x="67" y="595" width="3" height="1" fill="#c0c0c0"/>
<rect x="73" y="595" width="3" height="1" fill="#c0c0c0"/>
<rect x="79" y="595" width="3" height="1" fill="#c0c0c0"/>
<rect x="85" y="595" width="3" height="1" fill="#c0c0c0"/>
<rect x="91" y="595" width="3" height="1" fill="#c0c0c0"/>
<rect x="97" y="595" width="3" height="1" fill="#c0c0c0"/>
<rect x="103" y="595" width="3" height="1" fill="#c0c0c0"/>
<rect x="109" y="595" width="3" height="1" fill="#c0c0c0"/>
<rect x="115" y="595" width="3" height="1" fill="#c0c0c0"/>
<rect x="121" y="595" width="3" height="1" fill="#c0c0c0"/>
<rect x="127" y="595" width="3" height="1" fill="#c0c0c0"/>
<rect x="133" y="595" width="3" height="1" fill="#c0c0c0"/>
<rect x="139" y="595" width="3" height="1" fill="#c0c0c0"/>
<rect x="145" y="595" width="3" height="1" fill="#c0c0c0"/>
<rect x="151" y="595" width="3" height="1" fill="#c0c0c0"/>
<rect x="157" y="595" width="3" height="1" fill="#c0c0c0"/>
<rect x="163" y="595" width="3" height="1" fill="#c0c0c0"/>
<rect x="169" y="595" width="3" height="1" fill="#c0c0c0"/>
<rect x="175" y="595" width="3" height="1" fill="#c0c0c0"/>
<rect x="181" y="595" width="3" height="1" fill="#c0c0c0"/>
<rect x="187" y="595" width="3" height="1" fill="#c0c0c0"/>
<rect x="193" y="595" width="3" height="1" fill="#c0c0c0"/>
<rect x="199" y="595" width="3" height="1" fill="#c0c0c0"/>
<rect x="205" y="595" width="3" height="1" fill="#c0c0c0"/>
<rect x="211" y="595" width="3" height="1" fill="#c0c0c0"/>
<rect x="217" y="595" width="3" height="1" fill="#c0c0c0"/>
<rect x="223" y="595" width="3" height="1" fill="#c0c0c0"/>
<rect x="229" y="595" width="3" height="1" fill="#c0c0c0"/>
<rect x="235" y="595" width="3" height="1" fill="#c0c0c0"/>
<rect x="241" y="595" width="3" height="1" fill="#c0c0c0"/>
<rect x="247" y="595" width="3" height="1" fill="#c0c0c0"/>
<rect x="253" y="595" width="3" height="1" fill="#c0c0c0"/>
<rect x="259" y="595" width="3" height="1" fill="#c0c0c0"/>
<rect x="265" y="595" width="3" height="1" fill="#c0c0c0"/>
<rect x="271" y="595" width="3" height="1" fill="#c0c0c0"/>
<rect x="277" y="595" width="3" height="1" fill="#c0c0c0"/>
<rect x="283" y="595" width="3" height="1" fill="#c0c0c0"/>
<rect x="289" y="595" width="3" height="1" fill="#c0c0c0"/>
<rect x="295" y="595" width="3" height="1" fill="#c0c0c0"/>
<rect x="301" y="595" width="3" height="1" fill="#c0c0c0"/>
<rect x="307" y="595" width="3" height="1" fill="#c0c0c0"/>
<rect x="313" y="595" width="3" height="1" fill="#c0c0c0"/>
<rect x="319" y="595" width="3" height="1" fill="#c0c0c0"/>
<rect x="325" y="595" width="3" height="1" fill="#c0c0c0"/>
<rect x="331" y="595" width="3" height="1" fill="#c0c0c0"/>
<rect x="337" y="595" width="3" height="1" fill="#c0c0c0"/>
<rect x="343" y="595" width="3" height="1" fill="#c0c0c0"/>
<rect x="349" y="595" width="3" height="1" fill="#c0c0c0"/>
<rect x="355" y="595" width="3" height="1" fill="#c0c0c0"/>
<rect x="361" y="595" width="3" height="1" fill="#c0c0c0"/>
<rect x="367" y="595" width="3" height="1" fill="#c0c0c0"/>
<rect x="373" y="595" width="3" height="1" fill="#c0c0c0"/>
<rect x="379" y="595" width="3" height="1" fill="#c0c0c0"/>
<rect x="385" y="595" width="3" height="1" fill="#c0c0c0"/>
<rect x="391" y="595" width="3" height="1" fill="#c0c0c0"/>
<rect x="397" y="595" width="3" height="1" fill="#c0c0c0"/>
<rect x="403" y="595" width="3" height="1" fill="#c0c0c0"/>
<rect x="409" y="595" width="3" height="1" fill="#c0c0c0"/>
<rect x="415" y="595" width="3" height="1" fill="#c0c0c0"/>
<rect x="421" y="595" width="3" height="1" fill="#c0c0c0"/>
<rect x="427" y="595" width="3" height="1" fill="#c0c0c0"/>
<rect x="433" y="595" width="3" height="1" fill="#c0c0c0"/>
<rect x="439" y="595" width="3" height="1" fill="#c0c0c0"/>
<rect x="445" y="595" width="3" height="1" fill="#c0c0c0"/>
<rect x="451" y="595" width="3" height="1" fill="#c0c0c0"/>
<rect x="457" y="595" width="3" height="1" fill="#c0c0c0"/>
<rect x="463" y="595" width="3" height="1" fill="#c0c0c0"/>
<rect x="469" y="595" width="3" height="1" fill="#c0c0c0"/>
<rect x="475" y="595" width="3" height="1" fill="#c0c0c0"/>
<rect x="481" y="595" width="3" height="1" fill="#c0c0c0"/>
<rect x="487" y="595" width="3" height="1" fill="#c0c0c0"/>
<rect x="493" y="595" width="3" height="1" fill="#c0c0c0"/>
<rect x="499" y="595" width="3" height="1" fill="#c0c0c0"/>
<rect x="505" y="595" width="3" height="1" fill="#c0c0c0"/>
<rect x="511" y="595" width="3" height="1" fill="#c0c0c0"/>
<rect x="517" y="595" width="3" height="1" fill="#c0c0c0"/>
<rect x="523" y="595" width="3" height="1" fill="#c0c0c0"/>
<rect x="529" y="595" width="3" height="1" fill="#c0c0c0"/>
<rect x="535" y="595" width="3" height="1" fill="#c0c0c0"/>
<rect x="541" y="595" width="3" height="1" fill="#c0c0c0"/>
<rect x="547" y="595" width="3" height="1" fill="#c0c0c0"/>
<rect x="553" y="595" width="3" height="1" fill="#c0c0c0"/>
<rect x="559" y="595" width="3" height="1" fill="#c0c0c0"/>
<rect x="565" y="595" width="3" height="1" fill="#c0c0c0"/>
<rect x="571" y="595" width="3" height="1" fill="#c0c0c0"/>
<rect x="577" y="595" width="3" height="1" fill="#c0c0c0"/>
<rect x="583" y="595" width="3" height="1" fill="#c0c0c0"/>
<rect x="589" y="595" width="3" height="1" fill="#c0c0c0"/>
<rect x="595" y="595" width="3" height="1" fill="#c0c0c0"/>
<rect x="601" y="595" width="3" height="1" fill="#c0c0c0"/>
<rect x="607" y="595" width="3" height="1" fill="#c0c0c0"/>
<rect x="613" y="595" width="3" height="1" fill="#c0c0c0"/>
<rect x="619" y="595" width="3" height="1" fill="#c0c0c0"/>
<rect x="625" y="595" width="3" height="1" fill="#c0c0c0"/>
<rect x="631" y="595" width="3" height="1" fill="#c0c0c0"/>
<rect x="637" y="595" width="3" height="1" fill="#c0c0c0"/>
<rect x="643" y="595" width="3" height="1" fill="#c0c0c0"/>
<rect x="649" y="595" width="3" height="1" fill="#c0c0c0"/>
<rect x="655" y="595" width="3" height="1" fill="#c0c0c0"/>
<rect x="661" y="595" width="3" height="1" fill="#c0c0c0"/>
<rect x="667" y="595" width="3" height="1" fill="#c0c0c0"/>
<rect x="673" y="595" width="3" height="1" fill="#c0c0c0"/>
<rect x="679" y="595" width="3" height="1" fill="#c0c0c0"/>
<rect x="685" y="595" width="3" height="1" fill="#c0c0c0"/>
<rect x="691" y="595" width="3" height="1" fill="#c0c0c0"/>
<rect x="697" y="595" width="3" height="1" fill="#c0c0c0"/>
<rect x="703" y="595" width="3" height="1" fill="#c0c0c0"/>
<rect x="709" y="595" width="3" height="1" fill="#c0c0c0"/>
<rect x="715" y="595" width="3" height="1" fill="#c0c0c0"/>
<rect x="721" y="595" width="3" height="1" fill="#c0c0c0"/>
<rect x="727" y="595" width="3" height="1" fill="#c0c0c0"/>
<rect x="733" y="595" width="3" height="1" fill="#c0c0c0"/>
<rect x="739" y="595" width="3" height="1" fill="#c0c0c0"/>
<rect x="745" y="595" width="3" height="1" fill="#c0c0c0"/>
<rect x="751" y="595" width="3" height="1" fill="#c0c0c0"/>
<rect x="757" y="595" width="3" height="1" fill="#c0c0c0"/>
<rect x="763" y="595" width="3" height="1" fill="#c0c0c0"/>
<rect x="769" y="595" width="3" height="1" fill="#c0c0c0"/>
<rect x="775" y="595" width="3" height="1" fill="#c0c0c0"/>
<rect x="781" y="595" width="3" height="1" fill="#c0c0c0"/>
<rect x="787" y="595" width="3" height="1" fill="#c0c0c0"/>
<rect x="793" y="595" width="3" height="1" fill="#c0c0c0"/>
<rect x="799" y="595" width="3" height="1" fill="#c0c0c0"/>
<rect x="805" y="595" width="3" height="1" fill="#c0c0c0"/>
<rect x="811" y="595" width="3" height="1" fill="#c0c0c0"/>
<rect x="817" y="595" width="3" height="1" fill="#c0c0c0"/>
<rect x="823" y="595" width="3" height="1" fill="#c0c0c0"/>
<rect x="829" y="595" width="3" height="1" fill="#c0c0c0"/>
<rect x="835" y="595" width="3" height="1" fill="#c0c0c0"/>
<rect x="841" y="595" width="3" height="1" fill="#c0c0c0"/>
<rect x="847" y="595" width="3" height="1" fill="#c0c0c0"/>
<rect x="853" y="595" width="3" height="1" fill="#c0c0c0"/>
<rect x="859" y="595" width="3" height="1" fill="#c0c0c0"/>
<rect x="865" y="595" width="3" height="1" fill="#c0c0c0"/>
<rect x="871" y="595" width="3" height="1" fill="#c0c0c0"/>
<rect x="877" y="595" width="3" height="1" fill="#c0c0c0"/>
<rect x="883" y="595" width="3" height="1" fill="#c0c0c0"/>
<rect x="889" y="595" width="3" height="1" fill="#c0c0c0"/>
<rect x="895" y="595" width="3" height="1" fill="#c0c0c0"/>
<rect x="901" y="595" width="3" height="1" fill="#c0c0c0"/>
<rect x="907" y="595" width="3" height="1" fill="#c0c0c0"/>
<rect x="913" y="595" width="3" height="1" fill="#c0c0c0"/>
<rect x="919" y="595" width="3" height="1" fill="#c0c0c0"/>
<rect x="925" y="595" width="3" height="1" fill="#c0c0c0"/>
<rect x="931" y="595" width="3" height="1" fill="#c0c0c0"/>
<rect x="937" y="595" width="3" height="1" fill="#c0c0c0"/>
<rect x="943" y="595" width="3" height="1" fill="#c0c0c0"/>
<rect x="949" y="595" width="3" height="1" fill="#c0c0c0"/>
<rect x="955" y="595" width="3" height="1" fill="#c0c0c0"/>
<rect x="961" y="595" width="3" height="1" fill="#c0c0c0"/>
<rect x="967" y="595" width="3" height="1" fill="#c0c0c0"/>
<rect x="973" y="595" width="3" height="1" fill="#c0c0c0"/>
<rect x="979" y="595" width="3" height="1" fill="#c0c0c0"/>
<rect x="985" y="595" width="3" height="1" fill="#c0c0c0"/>
<rect x="991" y="595" width="3" height="1" fill="#c0c0c0"/>
<rect x="997" y="595" width="3" height="1" fill="#c0c0c0"/>
<rect x="1003" y="595" width="3" height="1" fill="#c0c0c0"/>
<rect x="1009" y="595" width="3" height="1" fill="#c0c0c0"/>
<rect x="1015" y="595" width="3" height="1" fill="#c0c0c0"/>
<rect x="1021" y="595" width="3" height="1" fill="#c0c0c0"/>
<rect x="1027" y="595" width="3" height="1" fill="#c0c0c0"/>
<rect x="1033" y="595" width="3" height="1" fill="#c0c0c0"/>
<rect x="1039" y="595" width="3" height="1" fill="#c0c0c0"/>
<rect x="1045" y="595" width="3" height="1" fill="#c0c0c0"/>
<rect x="1051" y="595" width="3" height="1" fill="#c0c0c0"/>
<rect x="1057" y="595" width="3" height="1" fill="#c0c0c0"/>
<rect x="1063" y="595" width="3" height="1" fill="#c0c0c0"/>
<rect x="1069" y="595" width="3" height="1" fill="#c0c0c0"/>
<rect x="1075" y="595" width="3" height="1" fill="#c0c0c0"/>
<rect x="1081" y="595" width="3" height="1" fill="#c0c0c0"/>
<rect x="1087" y="595" width="3" height="1" fill="#c0c0c0"/>
<rect x="1093" y="595" width="3" height="1" fill="#c0c0c0"/>
<rect x="1099" y="595" width="3" height="1" fill="#c0c0c0"/>
<rect x="1105" y="595" width="3" height="1" fill="#c0c0c0"/>
<rect x="1111" y="595" width="3" height="1" fill="#c0c0c0"/>
<rect x="1117" y="595" width="3" height="1" fill="#c0c0c0"/>
<rect x="1123" y="595" width="3" height="1" fill="#c0c0c0"/>
<rect x="1129" y="595" width="3" height="1" fill="#c0c0c0"/>
<rect x="1135" y="595" width="3" height="1" fill="#c0c0c0"/>
<rect x="1141" y="595" width="3" height="1" fill="#c0c0c0"/>
<rect x="1147" y="595" width="3" height="1" fill="#c0c0c0"/>
<rect x="1153" y="595" width="3" height="1" fill="#c0c0c0"/>
<rect x="1159" y="595" width="3" height="1" fill="#c0c0c0"/>
<rect x="1165" y="595" width="3" height="1" fill="#c0c0c0"/>
<rect x="1171" y="595" width="3" height="1" fill="#c0c0c0"/>
<rect x="1177" y="595" width="3" height="1" fill="#c0c0c0"/>
<rect x="1183" y="595" width="3" height="1" fill="#c0c0c0"/>
<rect x="1189" y="595" width="3" height="1" fill="#c0c0c0"/>
<rect x="1195" y="595" width="3" height="1" fill="#c0c0c0"/>
<rect x="1201" y="595" width="3" height="1" fill="#c0c0c0"/>
<rect x="1" y="634" width="3" height="1" fill="#c0c0c0"/>
<rect x="7" y="634" width="3" height="1" fill="#c0c0c0"/>
<rect x="13" y="634" width="3" height="1" fill="#c0c0c0"/>
<rect x="19" y="634" width="3" height="1" fill="#c0c0c0"/>
<rect x="25" y="634" width="3" height="1" fill="#c0c0c0"/>
<rect x="31" y="634" width="3" height="1" fill="#c0c0c0"/>
<rect x="37" y="634" width="3" height="1" fill="#c0c0c0"/>
<rect x="43" y="634" width="3" height="1" fill="#c0c0c0"/>
<rect x="49" y="634" width="3" height="1" fill="#c0c0c0"/>
<rect x="55" y="634" width="3" height="1" fill="#c0c0c0"/>
<rect x="61" y="634" width="3" height="1" fill="#c0c0c0"/>
<rect x="67" y="634" width="3" height="1" fill="#c0c0c0"/>
<rect x="73" y="634" width="3" height="1" fill="#c0c0c0"/>
<rect x="79" y="634" width="3" height="1" fill="#c0c0c0"/>
<rect x="85" y="634" width="3" height="1" fill="#c0c0c0"/>
<rect x="91" y="634" width="3" height="1" fill="#c0c0c0"/>
<rect x="97" y="634" width="3" height="1" fill="#c0c0c0"/>
<rect x="103" y="634" width="3" height="1" fill="#c0c0c0"/>
<rect x="109" y="634" width="3" height="1" fill="#c0c0c0"/>
<rect x="115" y="634" width="3" height="1" fill="#c0c0c0"/>
<rect x="121" y="634" width="3" height="1" fill="#c0c0c0"/>
<rect x="127" y="634" width="3" height="1" fill="#c0c0c0"/>
<rect x="133" y="634" width="3" height="1" fill="#c0c0c0"/>
<rect x="139" y="634" width="3" height="1" fill="#c0c0c0"/>
<rect x="145" y="634" width="3" height="1" fill="#c0c0c0"/>
<rect x="151" y="634" width="3" height="1" fill="#c0c0c0"/>
<rect x="157" y="634" width="3" height="1" fill="#c0c0c0"/>
<rect x="163" y="634" width="3" height="1" fill="#c0c0c0"/>
<rect x="169" y="634" width="3" height="1" fill="#c0c0c0"/>
<rect x="175" y="634" width="3" height="1" fill="#c0c0c0"/>
<rect x="181" y="634" width="3" height="1" fill="#c0c0c0"/>
<rect x="187" y="634" width="3" height="1" fill="#c0c0c0"/>
<rect x="193" y="634" width="3" height="1" fill="#c0c0c0"/>
<rect x="199" y="634" width="3" height="1" fill="#c0c0c0"/>
<rect x="205" y="634" width="3" height="1" fill="#c0c0c0"/>
<rect x="211" y="634" width="3" height="1" fill="#c0c0c0"/>
<rect x="217" y="634" width="3" height="1" fill="#c0c0c0"/>
<rect x="223" y="634" width="3" height="1" fill="#c0c0c0"/>
<rect x="229" y="634" width="3" height="1" fill="#c0c0c0"/>
<rect x="235" y="634" width="3" height="1" fill="#c0c0c0"/>
<rect x="241" y="634" width="3" height="1" fill="#c0c0c0"/>
<rect x="247" y="634" width="3" height="1" fill="#c0c0c0"/>
<rect x="253" y="634" width="3" height="1" fill="#c0c0c0"/>
<rect x="259" y="634" width="3" height="1" fill="#c0c0c0"/>
<rect x="265" y="634" width="3" height="1" fill="#c0c0c0"/>
<rect x="271" y="634" width="3" height="1" fill="#c0c0c0"/>
<rect x="277" y="634" width="3" height="1" fill="#c0c0c0"/>
<rect x="283" y="634" width="3" height="1" fill="#c0c0c0"/>
<rect x="289" y="634" width="3" height="1" fill="#c0c0c0"/>
<rect x="295" y="634" width="3" height="1" fill="#c0c0c0"/>
<rect x="301" y="634" width="3" height="1" fill="#c0c0c0"/>
<rect x="307" y="634" width="3" height="1" fill="#c0c0c0"/>
<rect x="313" y="634" width="3" height="1" fill="#c0c0c0"/>
<rect x="319" y="634" width="3" height="1" fill="#c0c0c0"/>
<rect x="325" y="634" width="3" height="1" fill="#c0c0c0"/>
<rect x="331" y="634" width="3" height="1" fill="#c0c0c0"/>
<rect x="337" y="634" width="3" height="1" fill="#c0c0c0"/>
<rect x="343" y="634" width="3" height="1" fill="#c0c0c0"/>
<rect x="349" y="634" width="3" height="1" fill="#c0c0c0"/>
<rect x="355" y="634" width="3" height="1" fill="#c0c0c0"/>
<rect x="361" y="634" width="3" height="1" fill="#c0c0c0"/>
<rect x="367" y="634" width="3" height="1" fill="#c0c0c0"/>
<rect x="373" y="634" width="3" height="1" fill="#c0c0c0"/>
<rect x="379" y="634" width="3" height="1" fill="#c0c0c0"/>
<rect x="385" y="634" width="3" height="1" fill="#c0c0c0"/>
<rect x="391" y="634" width="3" height="1" fill="#c0c0c0"/>
<rect x="397" y="634" width="3" height="1" fill="#c0c0c0"/>
<rect x="403" y="634" width="3" height="1" fill="#c0c0c0"/>
<rect x="409" y="634" width="3" height="1" fill="#c0c0c0"/>
<rect x="415" y="634" width="3" height="1" fill="#c0c0c0"/>
<rect x="421" y="634" width="3" height="1" fill="#c0c0c0"/>
<rect x="427" y="634" width="3" height="1" fill="#c0c0c0"/>
<rect x="433" y="634" width="3" height="1" fill="#c0c0c0"/>
<rect x="439" y="634" width="3" height="1" fill="#c0c0c0"/>
<rect x="445" y="634" width="3" height="1" fill="#c0c0c0"/>
<rect x="451" y="634" width="3" height="1" fill="#c0c0c0"/>
<rect x="457" y="634" width="3" height="1" fill="#c0c0c0"/>
<rect x="463" y="634" width="3" height="1" fill="#c0c0c0"/>
<rect x="469" y="634" width="3" height="1" fill="#c0c0c0"/>
<rect x="475" y="634" width="3" height="1" fill="#c0c0c0"/>
<rect x="481" y="634" width="3" height="1" fill="#c0c0c0"/>
<rect x="487" y="634" width="3" height="1" fill="#c0c0c0"/>
<rect x="493" y="634" width="3" height="1" fill="#c0c0c0"/>
<rect x="499" y="634" width="3" height="1" fill="#c0c0c0"/>
<rect x="505" y="634" width="3" height="1" fill="#c0c0c0"/>
<rect x="511" y="634" width="3" height="1" fill="#c0c0c0"/>
<rect x="517" y="634" width="3" height="1" fill="#c0c0c0"/>
<rect x="523" y="634" width="3" height="1" fill="#c0c0c0"/>
<rect x="529" y="634" width="3" height="1" fill="#c0c0c0"/>
<rect x="535" y="634" width="3" height="1" fill="#c0c0c0"/>
<rect x="541" y="634" width="3" height="1" fill="#c0c0c0"/>
<rect x="547" y="634" width="3" height="1" fill="#c0c0c0"/>
<rect x="553" y="634" width="3" height="1" fill="#c0c0c0"/>
<rect x="559" y="634" width="3" height="1" fill="#c0c0c0"/>
<rect x="565" y="634" width="3" height="1" fill="#c0c0c0"/>
<rect x="571" y="634" width="3" height="1" fill="#c0c0c0"/>
<rect x="577" y="634" width="3" height="1" fill="#c0c0c0"/>
<rect x="583" y="634" width="3" height="1" fill="#c0c0c0"/>
<rect x="589" y="634" width="3" height="1" fill="#c0c0c0"/>
<rect x="595" y="634" width="3" height="1" fill="#c0c0c0"/>
<rect x="601" y="634" width="3" height="1" fill="#c0c0c0"/>
<rect x="607" y="634" width="3" height="1" fill="#c0c0c0"/>
<rect x="613" y="634" width="3" height="1" fill="#c0c0c0"/>
<rect x="619" y="634" width="3" height="1" fill="#c0c0c0"/>
<rect x="625" y="634" width="3" height="1" fill="#c0c0c0"/>
<rect x="631" y="634" width="3" height="1" fill="#c0c0c0"/>
<rect x="637" y="634" width="3" height="1" fill="#c0c0c0"/>
<rect x="643" y="634" width="3" height="1" fill="#c0c0c0"/>
<rect x="649" y="634" width="3" height="1" fill="#c0c0c0"/>
<rect x="655" y="634" width="3" height="1" fill="#c0c0c0"/>
<rect x="661" y="634" width="3" height="1" fill="#c0c0c0"/>
<rect x="667" y="634" width="3" height="1" fill="#c0c0c0"/>
<rect x="673" y="634" width="3" height="1" fill="#c0c0c0"/>
<rect x="679" y="634" width="3" height="1" fill="#c0c0c0"/>
<rect x="685" y="634" width="3" height="1" fill="#c0c0c0"/>
<rect x="691" y="634" width="3" height="1" fill="#c0c0c0"/>
<rect x="697" y="634" width="3" height="1" fill="#c0c0c0"/>
<rect x="703" y="634" width="3" height="1" fill="#c0c0c0"/>
<rect x="709" y="634" width="3" height="1" fill="#c0c0c0"/>
<rect x="715" y="634" width="3" height="1" fill="#c0c0c0"/>
<rect x="721" y="634" width="3" height="1" fill="#c0c0c0"/>
<rect x="727" y="634" width="3" height="1" fill="#c0c0c0"/>
<rect x="733" y="634" width="3" height="1" fill="#c0c0c0"/>
<rect x="739" y="634" width="3" height="1" fill="#c0c0c0"/>
<rect x="745" y="634" width="3" height="1" fill="#c0c0c0"/>
<rect x="751" y="634" width="3" height="1" fill="#c0c0c0"/>
<rect x="757" y="634" width="3" height="1" fill="#c0c0c0"/>
<rect x="763" y="634" width="3" height="1" fill="#c0c0c0"/>
<rect x="769" y="634" width="3" height="1" fill="#c0c0c0"/>
<rect x="775" y="634" width="3" height="1" fill="#c0c0c0"/>
<rect x="781" y="634" width="3" height="1" fill="#c0c0c0"/>
<rect x="787" y="634" width="3" height="1" fill="#c0c0c0"/>
<rect x="793" y="634" width="3" height="1" fill="#c0c0c0"/>
<rect x="799" y="634" width="3" height="1" fill="#c0c0c0"/>
<rect x="805" y="634" width="3" height="1" fill="#c0c0c0"/>
<rect x="811" y="634" width="3" height="1" fill="#c0c0c0"/>
<rect x="817" y="634" width="3" height="1" fill="#c0c0c0"/>
<rect x="823" y="634" width="3" height="1" fill="#c0c0c0"/>
<rect x="829" y="634" width="3" height="1" fill="#c0c0c0"/>
<rect x="835" y="634" width="3" height="1" fill="#c0c0c0"/>
<rect x="841" y="634" width="3" height="1" fill="#c0c0c0"/>
<rect x="847" y="634" width="3" height="1" fill="#c0c0c0"/>
<rect x="853" y="634" width="3" height="1" fill="#c0c0c0"/>
<rect x="859" y="634" width="3" height="1" fill="#c0c0c0"/>
<rect x="865" y="634" width="3" height="1" fill="#c0c0c0"/>
<rect x="871" y="634" width="3" height="1" fill="#c0c0c0"/>
<rect x="877" y="634" width="3" height="1" fill="#c0c0c0"/>
<rect x="883" y="634" width="3" height="1" fill="#c0c0c0"/>
<rect x="889" y="634" width="3" height="1" fill="#c0c0c0"/>
<rect x="895" y="634" width="3" height="1" fill="#c0c0c0"/>
<rect x="901" y="634" width="3" height="1" fill="#c0c0c0"/>
<rect x="907" y="634" width="3" height="1" fill="#c0c0c0"/>
<rect x="913" y="634" width="3" height="1" fill="#c0c0c0"/>
<rect x="919" y="634" width="3" height="1" fill="#c0c0c0"/>
<rect x="925" y="634" width="3" height="1" fill="#c0c0c0"/>
<rect x="931" y="634" width="3" height="1" fill="#c0c0c0"/>
<rect x="937" y="634" width="3" height="1" fill="#c0c0c0"/>
<rect x="943" y="634" width="3" height="1" fill="#c0c0c0"/>
<rect x="949" y="634" width="3" height="1" fill="#c0c0c0"/>
<rect x="955" y="634" width="3" height="1" fill="#c0c0c0"/>
<rect x="961" y="634" width="3" height="1" fill="#c0c0c0"/>
<rect x="967" y="634" width="3" height="1" fill="#c0c0c0"/>
<rect x="973" y="634" width="3" height="1" fill="#c0c0c0"/>
<rect x="979" y="634" width="3" height="1" fill="#c0c0c0"/>
<rect x="985" y="634" width="3" height="1" fill="#c0c0c0"/>
<rect x="991" y="634" width="3" height="1" fill="#c0c0c0"/>
<rect x="997" y="634" width="3" height="1" fill="#c0c0c0"/>
<rect x="1003" y="634" width="3" height="1" fill="#c0c0c0"/>
<rect x="1009" y="634" width="3" height="1" fill="#c0c0c0"/>
<rect x="1015" y="634" width="3" height="1" fill="#c0c0c0"/>
<rect x="1021" y="634" width="3" height="1" fill="#c0c0c0"/>
<rect x="1027" y="634" width="3" height="1" fill="#c0c0c0"/>
<rect x="1033" y="634" width="3" height="1" fill="#c0c0c0"/>
<rect x="1039" y="634" width="3" height="1" fill="#c0c0c0"/>
<rect x="1045" y="634" width="3" height="1" fill="#c0c0c0"/>
<rect x="1051" y="634" width="3" height="1" fill="#c0c0c0"/>
<rect x="1057" y="634" width="3" height="1" fill="#c0c0c0"/>
<rect x="1063" y="634" width="3" height="1" fill="#c0c0c0"/>
<rect x="1069" y="634" width="3" height="1" fill="#c0c0c0"/>
<rect x="1075" y="634" width="3" height="1" fill="#c0c0c0"/>
<rect x="1081" y="634" width="3" height="1" fill="#c0c0c0"/>
<rect x="1087" y="634" width="3" height="1" fill="#c0c0c0"/>
<rect x="1093" y="634" width="3" height="1" fill="#c0c0c0"/>
<rect x="1099" y="634" width="3" height="1" fill="#c0c0c0"/>
<rect x="1105" y="634" width="3" height="1" fill="#c0c0c0"/>
<rect x="1111" y="634" width="3" height="1" fill="#c0c0c0"/>
<rect x="1117" y="634" width="3" height="1" fill="#c0c0c0"/>
<rect x="1123" y="634" width="3" height="1" fill="#c0c0c0"/>
<rect x="1129" y="634" width="3" height="1" fill="#c0c0c0"/>
<rect x="1135" y="634" width="3" height="1" fill="#c0c0c0"/>
<rect x="1141" y="634" width="3" height="1" fill="#c0c0c0"/>
<rect x="1147" y="634" width="3" height="1" fill="#c0c0c0"/>
<rect x="1153" y="634" width="3" height="1" fill="#c0c0c0"/>
<rect x="1159" y="634" width="3" height="1" fill="#c0c0c0"/>
<rect x="1165" y="634" width="3" height="1" fill="#c0c0c0"/>
<rect x="1171" y="634" width="3" height="1" fill="#c0c0c0"/>
<rect x="1177" y="634" width="3" height="1" fill="#c0c0c0"/>
<rect x="1183" y="634" width="3" height="1" fill="#c0c0c0"/>
<rect x="1189" y="634" width="3" height="1" fill="#c0c0c0"/>
<rect x="1195" y="634" width="3" height="1" fill="#c0c0c0"/>
<rect x="1201" y="634" width="3" height="1" fill="#c0c0c0"/>
<path d="M783,590h2v1h-2zM781,591h2v1h-2zM785,591h2v1h-2zM779,592h2v1h-2zM787,592h2v1h-2zM777,593h2v1h-2zM789,593h1v1h-1zM879,593h2v1h-2zM702,594h3v1h-3zM764,594h13v1h-13zM790,594h2v1h-2zM876,594h3v1h-3zM881,594h1v1h-1zM1142,594h4v1h-4zM576,595h3v1h-3zM698,595h4v1h-4zM705,595h1v1h-1zM758,595h6v1h-6zM792,595h1v1h-1zM874,595h2v1h-2zM882,595h1v1h-1zM1138,595h4v1h-4zM1146,595h2v1h-2zM574,596h2v1h-2zM579,596h4v1h-4zM696,596h2v1h-2zM706,596h1v1h-1zM754,596h4v1h-4zM793,596h2v1h-2zM860,596h14v1h-14zM882,596h1v1h-1zM1135,596h3v1h-3zM1148,596h2v1h-2zM1158,596h3v1h-3zM199,597h3v1h-3zM436,597h6v1h-6zM572,597h2v1h-2zM583,597h2v1h-2zM694,597h2v1h-2zM707,597h1v1h-1zM751,597h3v1h-3zM795,597h2v1h-2zM855,597h5v1h-5zM883,597h1v1h-1zM967,597h3v1h-3zM983,597h4v1h-4zM1132,597h3v1h-3zM1150,597h2v1h-2zM1154,597h4v1h-4zM1161,597h1v1h-1zM196,598h3v1h-3zM202,598h3v1h-3zM424,598h12v1h-12zM442,598h2v1h-2zM571,598h1v1h-1zM585,598h2v1h-2zM692,598h2v1h-2zM708,598h1v1h-1zM749,598h2v1h-2zM797,598h1v1h-1zM852,598h3v1h-3zM884,598h1v1h-1zM965,598h2v1h-2zM970,598h2v1h-2zM981,598h2v1h-2zM987,598h4v1h-4zM1104,598h3v1h-3zM1130,598h2v1h-2zM1152,598h2v1h-2zM1162,598h1v1h-1zM194,599h2v1h-2zM205,599h2v1h-2zM422,599h2v1h-2zM444,599h2v1h-2zM463,599h3v1h-3zM569,599h2v1h-2zM587,599h1v1h-1zM599,599h2v1h-2zM691,599h1v1h-1zM709,599h1v1h-1zM747,599h2v1h-2zM798,599h2v1h-2zM815,599h3v1h-3zM839,599h6v1h-6zM850,599h2v1h-2zM885,599h1v1h-1zM963,599h2v1h-2zM972,599h2v1h-2zM979,599h2v1h-2zM991,599h10v1h-10zM1102,599h2v1h-2zM1107,599h4v1h-4zM1126,599h4v1h-4zM1163,599h1v1h-1zM188,600h6v1h-6zM207,600h2v1h-2zM420,600h2v1h-2zM446,600h2v1h-2zM460,600h3v1h-3zM466,600h2v1h-2zM495,600h2v1h-2zM564,600h5v1h-5zM588,600h1v1h-1zM597,600h2v1h-2zM601,600h2v1h-2zM689,600h2v1h-2zM710,600h1v1h-1zM745,600h2v1h-2zM800,600h2v1h-2zM813,600h2v1h-2zM818,600h3v1h-3zM837,600h2v1h-2zM845,600h5v1h-5zM886,600h1v1h-1zM903,600h3v1h-3zM961,600h2v1h-2zM974,600h2v1h-2zM977,600h2v1h-2zM1001,600h1v1h-1zM1100,600h2v1h-2zM1111,600h6v1h-6zM1122,600h4v1h-4zM1164,600h1v1h-1zM174,601h14v1h-14zM208,601h1v1h-1zM419,601h1v1h-1zM448,601h5v1h-5zM458,601h2v1h-2zM468,601h2v1h-2zM492,601h3v1h-3zM497,601h2v1h-2zM511,601h4v1h-4zM560,601h4v1h-4zM589,601h2v1h-2zM595,601h2v1h-2zM603,601h2v1h-2zM688,601h1v1h-1zM711,601h1v1h-1zM716,601h17v1h-17zM740,601h5v1h-5zM802,601h3v1h-3zM811,601h2v1h-2zM821,601h2v1h-2zM835,601h2v1h-2zM886,601h1v1h-1zM900,601h3v1h-3zM906,601h3v1h-3zM960,601h1v1h-1zM976,601h1v1h-1zM1002,601h1v1h-1zM1099,601h1v1h-1zM1117,601h5v1h-5zM1165,601h1v1h-1zM170,602h4v1h-4zM209,602h1v1h-1zM417,602h2v1h-2zM453,602h5v1h-5zM470,602h2v1h-2zM476,602h9v1h-9zM490,602h2v1h-2zM499,602h2v1h-2zM509,602h2v1h-2zM515,602h4v1h-4zM559,602h1v1h-1zM591,602h1v1h-1zM593,602h2v1h-2zM605,602h1v1h-1zM652,602h5v1h-5zM686,602h2v1h-2zM712,602h4v1h-4zM733,602h7v1h-7zM805,602h2v1h-2zM809,602h2v1h-2zM823,602h6v1h-6zM833,602h2v1h-2zM887,602h1v1h-1zM898,602h2v1h-2zM909,602h2v1h-2zM959,602h1v1h-1zM1002,602h1v1h-1zM1097,602h2v1h-2zM1166,602h1v1h-1zM7,603h6v1h-6zM168,603h2v1h-2zM209,603h1v1h-1zM416,603h1v1h-1zM472,603h4v1h-4zM485,603h5v1h-5zM501,603h1v1h-1zM507,603h2v1h-2zM519,603h10v1h-10zM559,603h1v1h-1zM592,603h1v1h-1zM606,603h2v1h-2zM647,603h5v1h-5zM657,603h2v1h-2zM685,603h1v1h-1zM807,603h2v1h-2zM829,603h4v1h-4zM888,603h10v1h-10zM911,603h4v1h-4zM959,603h1v1h-1zM1003,603h1v1h-1zM1055,603h3v1h-3zM1092,603h5v1h-5zM1167,603h1v1h-1zM1172,603h9v1h-9zM4,604h3v1h-3zM13,604h5v1h-5zM167,604h1v1h-1zM210,604h1v1h-1zM414,604h2v1h-2zM502,604h2v1h-2zM505,604h2v1h-2zM529,604h2v1h-2zM558,604h1v1h-1zM608,604h2v1h-2zM645,604h2v1h-2zM659,604h1v1h-1zM684,604h1v1h-1zM915,604h4v1h-4zM958,604h1v1h-1zM1004,604h1v1h-1zM1053,604h2v1h-2zM1058,604h3v1h-3zM1088,604h4v1h-4zM1168,604h4v1h-4zM1181,604h4v1h-4zM2,605h2v1h-2zM18,605h2v1h-2zM166,605h1v1h-1zM210,605h1v1h-1zM412,605h2v1h-2zM504,605h1v1h-1zM531,605h2v1h-2zM557,605h1v1h-1zM610,605h2v1h-2zM643,605h2v1h-2zM660,605h1v1h-1zM682,605h2v1h-2zM919,605h4v1h-4zM958,605h1v1h-1zM1005,605h1v1h-1zM1051,605h2v1h-2zM1061,605h2v1h-2zM1068,605h5v1h-5zM1086,605h2v1h-2zM0,606h2v1h-2zM20,606h2v1h-2zM166,606h1v1h-1zM211,606h1v1h-1zM411,606h1v1h-1zM533,606h1v1h-1zM556,606h1v1h-1zM612,606h2v1h-2zM641,606h2v1h-2zM661,606h2v1h-2zM681,606h1v1h-1zM923,606h4v1h-4zM957,606h1v1h-1zM1006,606h1v1h-1zM1049,606h2v1h-2zM1063,606h5v1h-5zM1073,606h2v1h-2zM1085,606h1v1h-1zM22,607h2v1h-2zM126,607h15v1h-15zM165,607h1v1h-1zM211,607h1v1h-1zM409,607h2v1h-2zM534,607h2v1h-2zM556,607h1v1h-1zM614,607h2v1h-2zM638,607h3v1h-3zM663,607h1v1h-1zM676,607h5v1h-5zM927,607h2v1h-2zM957,607h1v1h-1zM1006,607h1v1h-1zM1047,607h2v1h-2zM1075,607h2v1h-2zM1084,607h1v1h-1zM24,608h5v1h-5zM122,608h4v1h-4zM141,608h12v1h-12zM164,608h1v1h-1zM212,608h1v1h-1zM400,608h9v1h-9zM536,608h5v1h-5zM555,608h1v1h-1zM616,608h13v1h-13zM634,608h4v1h-4zM664,608h12v1h-12zM929,608h1v1h-1zM956,608h1v1h-1zM1007,608h1v1h-1zM1044,608h3v1h-3zM1077,608h1v1h-1zM1082,608h2v1h-2zM29,609h5v1h-5zM118,609h4v1h-4zM153,609h2v1h-2zM163,609h1v1h-1zM212,609h1v1h-1zM398,609h2v1h-2zM541,609h5v1h-5zM554,609h1v1h-1zM629,609h5v1h-5zM930,609h1v1h-1zM956,609h1v1h-1zM1008,609h5v1h-5zM1042,609h2v1h-2zM1078,609h2v1h-2zM1081,609h1v1h-1zM34,610h2v1h-2zM114,610h4v1h-4zM155,610h2v1h-2zM162,610h1v1h-1zM213,610h1v1h-1zM396,610h2v1h-2zM546,610h3v1h-3zM553,610h1v1h-1zM930,610h1v1h-1zM955,610h1v1h-1zM1013,610h13v1h-13zM1039,610h3v1h-3zM1080,610h1v1h-1zM36,611h2v1h-2zM111,611h3v1h-3zM157,611h1v1h-1zM162,611h1v1h-1zM213,611h1v1h-1zM395,611h1v1h-1zM549,611h2v1h-2zM553,611h1v1h-1zM931,611h1v1h-1zM955,611h1v1h-1zM1026,611h3v1h-3zM1036,611h3v1h-3zM38,612h2v1h-2zM109,612h2v1h-2zM158,612h2v1h-2zM161,612h1v1h-1zM214,612h1v1h-1zM393,612h2v1h-2zM551,612h2v1h-2zM932,612h1v1h-1zM954,612h1v1h-1zM1029,612h2v1h-2zM1034,612h2v1h-2zM40,613h1v1h-1zM107,613h2v1h-2zM160,613h1v1h-1zM214,613h1v1h-1zM360,613h5v1h-5zM391,613h2v1h-2zM933,613h1v1h-1zM954,613h1v1h-1zM1031,613h3v1h-3zM41,614h2v1h-2zM105,614h2v1h-2zM215,614h1v1h-1zM359,614h1v1h-1zM365,614h14v1h-14zM388,614h3v1h-3zM934,614h1v1h-1zM943,614h4v1h-4zM953,614h1v1h-1zM43,615h1v1h-1zM104,615h1v1h-1zM215,615h1v1h-1zM220,615h6v1h-6zM358,615h1v1h-1zM379,615h4v1h-4zM386,615h2v1h-2zM934,615h1v1h-1zM940,615h3v1h-3zM947,615h4v1h-4zM953,615h1v1h-1zM44,616h1v1h-1zM103,616h1v1h-1zM216,616h4v1h-4zM226,616h3v1h-3zM356,616h2v1h-2zM383,616h3v1h-3zM935,616h1v1h-1zM938,616h2v1h-2zM951,616h2v1h-2zM45,617h2v1h-2zM103,617h1v1h-1zM229,617h2v1h-2zM355,617h1v1h-1zM936,617h2v1h-2zM47,618h1v1h-1zM102,618h1v1h-1zM231,618h3v1h-3zM354,618h1v1h-1zM48,619h5v1h-5zM101,619h1v1h-1zM234,619h2v1h-2zM353,619h1v1h-1zM53,620h4v1h-4zM101,620h1v1h-1zM236,620h2v1h-2zM352,620h1v1h-1zM57,621h1v1h-1zM100,621h1v1h-1zM238,621h2v1h-2zM351,621h1v1h-1zM58,622h1v1h-1zM99,622h1v1h-1zM240,622h5v1h-5zM351,622h1v1h-1zM59,623h2v1h-2zM99,623h1v1h-1zM245,623h5v1h-5zM350,623h1v1h-1zM61,624h1v1h-1zM98,624h1v1h-1zM250,624h2v1h-2zM350,624h1v1h-1zM62,625h1v1h-1zM97,625h1v1h-1zM252,625h2v1h-2zM349,625h1v1h-1zM63,626h1v1h-1zM97,626h1v1h-1zM254,626h2v1h-2zM348,626h1v1h-1zM64,627h5v1h-5zM76,627h7v1h-7zM94,627h3v1h-3zM256,627h1v1h-1zM294,627h3v1h-3zM348,627h1v1h-1zM69,628h7v1h-7zM83,628h4v1h-4zM90,628h4v1h-4zM257,628h1v1h-1zM290,628h4v1h-4zM297,628h1v1h-1zM312,628h1v1h-1zM347,628h1v1h-1zM87,629h3v1h-3zM258,629h1v1h-1zM286,629h4v1h-4zM298,629h1v1h-1zM310,629h2v1h-2zM313,629h2v1h-2zM346,629h1v1h-1zM259,630h2v1h-2zM282,630h4v1h-4zM299,630h2v1h-2zM309,630h1v1h-1zM315,630h1v1h-1zM346,630h1v1h-1zM261,631h1v1h-1zM271,631h11v1h-11zM301,631h1v1h-1zM308,631h1v1h-1zM316,631h1v1h-1zM345,631h1v1h-1zM262,632h1v1h-1zM268,632h3v1h-3zM302,632h1v1h-1zM306,632h2v1h-2zM317,632h2v1h-2zM332,632h9v1h-9zM345,632h1v1h-1zM263,633h1v1h-1zM266,633h2v1h-2zM303,633h1v1h-1zM305,633h1v1h-1zM319,633h1v1h-1zM324,633h8v1h-8zM341,633h4v1h-4zM264,634h2v1h-2zM304,634h1v1h-1zM320,634h4v1h-4z" fill="#1e90ff"/>
</g>
<g style="will-change:transform">
<rect x="1206" y="30" width="2" height="1" fill="#000"/>
<text transform="translate(1210,34) scale(1.0000,1.0)" fill="#000" stroke="#000" stroke-width="0.2" font-size="9.5" text-anchor="start" >71.660</text>
<rect x="1206" y="63" width="2" height="1" fill="#000"/>
<text transform="translate(1210,67) scale(1.0000,1.0)" fill="#000" stroke="#000" stroke-width="0.2" font-size="9.5" text-anchor="start" >70.860</text>
<rect x="1206" y="96" width="2" height="1" fill="#000"/>
<rect x="1206" y="129" width="2" height="1" fill="#000"/>
<text transform="translate(1210,133) scale(1.0000,1.0)" fill="#000" stroke="#000" stroke-width="0.2" font-size="9.5" text-anchor="start" >69.280</text>
<rect x="1206" y="162" width="2" height="1" fill="#000"/>
<rect x="1206" y="195" width="2" height="1" fill="#000"/>
<text transform="translate(1210,199) scale(1.0000,1.0)" fill="#000" stroke="#000" stroke-width="0.2" font-size="9.5" text-anchor="start" >67.700</text>
<rect x="1206" y="228" width="2" height="1" fill="#000"/>
<text transform="translate(1210,232) scale(1.0000,1.0)" fill="#000" stroke="#000" stroke-width="0.2" font-size="9.5" text-anchor="start" >66.900</text>
<rect x="1206" y="261" width="2" height="1" fill="#000"/>
<text transform="translate(1210,265) scale(1.0000,1.0)" fill="#000" stroke="#000" stroke-width="0.2" font-size="9.5" text-anchor="start" >66.100</text>
<rect x="1206" y="294" width="2" height="1" fill="#000"/>
<text transform="translate(1210,298) scale(1.0000,1.0)" fill="#000" stroke="#000" stroke-width="0.2" font-size="9.5" text-anchor="start" >65.300</text>
<rect x="1206" y="327" width="2" height="1" fill="#000"/>
<text transform="translate(1210,331) scale(1.0000,1.0)" fill="#000" stroke="#000" stroke-width="0.2" font-size="9.5" text-anchor="start" >64.520</text>
<rect x="1206" y="360" width="2" height="1" fill="#000"/>
<text transform="translate(1210,364) scale(1.0000,1.0)" fill="#000" stroke="#000" stroke-width="0.2" font-size="9.5" text-anchor="start" >63.720</text>
<rect x="1206" y="393" width="2" height="1" fill="#000"/>
<text transform="translate(1210,397) scale(1.0000,1.0)" fill="#000" stroke="#000" stroke-width="0.2" font-size="9.5" text-anchor="start" >62.920</text>
<rect x="1206" y="426" width="2" height="1" fill="#000"/>
<text transform="translate(1210,430) scale(1.0000,1.0)" fill="#000" stroke="#000" stroke-width="0.2" font-size="9.5" text-anchor="start" >62.140</text>
<rect x="1206" y="459" width="2" height="1" fill="#000"/>
<text transform="translate(1210,463) scale(1.0000,1.0)" fill="#000" stroke="#000" stroke-width="0.2" font-size="9.5" text-anchor="start" >61.340</text>
<rect x="1208" y="51" width="34" height="11" fill="#000"/>
<text transform="translate(1211,60) scale(1.0000,1.0)" fill="#fff" stroke="#fff" stroke-width="0.2" font-size="9.5" text-anchor="start" >71.050</text>
<rect x="1208" y="93" width="34" height="11" fill="#00d800"/>
<text transform="translate(1211,102) scale(1.0000,1.0)" fill="#fff" stroke="#fff" stroke-width="0.2" font-size="9.5" text-anchor="start" >70.000</text>
<rect x="1208" y="156" width="34" height="11" fill="#4459e6"/>
<text transform="translate(1211,165) scale(1.0000,1.0)" fill="#fff" stroke="#fff" stroke-width="0.2" font-size="9.5" text-anchor="start" >68.500</text>
<rect x="1208" y="239" width="34" height="11" fill="#4459e6"/>
<text transform="translate(1211,248) scale(1.0000,1.0)" fill="#fff" stroke="#fff" stroke-width="0.2" font-size="9.5" text-anchor="start" >66.500</text>
<rect x="1206" y="466" width="2" height="1" fill="#000"/>
<text transform="translate(1209,475) scale(1.0000,1.0)" fill="#000" stroke="#000" stroke-width="0.2" font-size="9.5" text-anchor="start" >0.7229</text>
<rect x="1206" y="508" width="2" height="1" fill="#000"/>
<text transform="translate(1209,512) scale(1.0000,1.0)" fill="#000" stroke="#000" stroke-width="0.2" font-size="9.5" text-anchor="start" >0.00</text>
<rect x="1206" y="561" width="1" height="1" fill="#000"/>
<text transform="translate(1209,559) scale(1.0000,1.0)" fill="#000" stroke="#000" stroke-width="0.2" font-size="9.5" text-anchor="start" >-0.9185</text>
<text transform="translate(1209.5,575) scale(1.0000,1.0)" fill="#000" stroke="#000" stroke-width="0.2" font-size="9.5" text-anchor="start" >100</text>
<rect x="1206" y="566" width="1" height="1" fill="#000"/>
<text transform="translate(1208,599) scale(1.0000,1.0)" fill="#000" stroke="#000" stroke-width="0.2" font-size="9.5" text-anchor="start" >70</text>
<text transform="translate(1208,638) scale(1.0000,1.0)" fill="#000" stroke="#000" stroke-width="0.2" font-size="9.5" text-anchor="start" >30</text>
<text transform="translate(1209,661) scale(1.0000,1.0)" fill="#000" stroke="#000" stroke-width="0.2" font-size="9.5" text-anchor="start" >0</text>
<rect x="1206" y="663" width="1" height="1" fill="#000"/>
<rect x="0" y="665" width="1" height="3" fill="#000"/>
<text transform="translate(-1,677) scale(1.0,1)" fill="#000" stroke="#000" stroke-width="0.2" font-size="9.5">12 May 2021</text>
<rect x="64" y="665" width="1" height="3" fill="#000"/>
<text transform="translate(63,677) scale(1.0,1)" fill="#000" stroke="#000" stroke-width="0.2" font-size="9.5">13 May 12:00</text>
<rect x="128" y="665" width="1" height="3" fill="#000"/>
<text transform="translate(127,677) scale(1.0,1)" fill="#000" stroke="#000" stroke-width="0.2" font-size="9.5">14 May 20:00</text>
<rect x="192" y="665" width="1" height="3" fill="#000"/>
<text transform="translate(191,677) scale(1.0,1)" fill="#000" stroke="#000" stroke-width="0.2" font-size="9.5">18 May 00:00</text>
<rect x="256" y="665" width="1" height="3" fill="#000"/>
<text transform="translate(255,677) scale(1.0,1)" fill="#000" stroke="#000" stroke-width="0.2" font-size="9.5">19 May 08:00</text>
<rect x="320" y="665" width="1" height="3" fill="#000"/>
<text transform="translate(319,677) scale(1.0,1)" fill="#000" stroke="#000" stroke-width="0.2" font-size="9.5">20 May 16:00</text>
<rect x="384" y="665" width="1" height="3" fill="#000"/>
<text transform="translate(383,677) scale(1.0,1)" fill="#000" stroke="#000" stroke-width="0.2" font-size="9.5">23 May 23:00</text>
<rect x="448" y="665" width="1" height="3" fill="#000"/>
<text transform="translate(447,677) scale(1.0,1)" fill="#000" stroke="#000" stroke-width="0.2" font-size="9.5">25 May 04:00</text>
<rect x="512" y="665" width="1" height="3" fill="#000"/>
<text transform="translate(511,677) scale(1.0,1)" fill="#000" stroke="#000" stroke-width="0.2" font-size="9.5">26 May 12:00</text>
<rect x="576" y="665" width="1" height="3" fill="#000"/>
<text transform="translate(575,677) scale(1.0,1)" fill="#000" stroke="#000" stroke-width="0.2" font-size="9.5">27 May 20:00</text>
<rect x="640" y="665" width="1" height="3" fill="#000"/>
<text transform="translate(639,677) scale(1.0,1)" fill="#000" stroke="#000" stroke-width="0.2" font-size="9.5">31 May 00:00</text>
<rect x="704" y="665" width="1" height="3" fill="#000"/>
<text transform="translate(703,677) scale(0.96,1)" fill="#000" stroke="#000" stroke-width="0.2" font-size="9.5">1 Jun 08:00</text>
<rect x="768" y="665" width="1" height="3" fill="#000"/>
<text transform="translate(767,677) scale(0.96,1)" fill="#000" stroke="#000" stroke-width="0.2" font-size="9.5">2 Jun 16:00</text>
<rect x="832" y="665" width="1" height="3" fill="#000"/>
<text transform="translate(831,677) scale(0.96,1)" fill="#000" stroke="#000" stroke-width="0.2" font-size="9.5">4 Jun 00:00</text>
<rect x="896" y="665" width="1" height="3" fill="#000"/>
<text transform="translate(895,677) scale(0.96,1)" fill="#000" stroke="#000" stroke-width="0.2" font-size="9.5">7 Jun 04:00</text>
<rect x="960" y="665" width="1" height="3" fill="#000"/>
<text transform="translate(959,677) scale(0.96,1)" fill="#000" stroke="#000" stroke-width="0.2" font-size="9.5">8 Jun 12:00</text>
<rect x="1024" y="665" width="1" height="3" fill="#000"/>
<text transform="translate(1023,677) scale(0.96,1)" fill="#000" stroke="#000" stroke-width="0.2" font-size="9.5">9 Jun 20:00</text>
<rect x="1088" y="665" width="1" height="3" fill="#000"/>
<text transform="translate(1087,677) scale(0.96,1)" fill="#000" stroke="#000" stroke-width="0.2" font-size="9.5">11 Jun 04:00</text>
<rect x="1152" y="665" width="1" height="3" fill="#000"/>
<text transform="translate(1151,677) scale(0.96,1)" fill="#000" stroke="#000" stroke-width="0.2" font-size="9.5">14 Jun 08:00</text>
<path d="M3,10h7v1h-1v1h-1v1h-1v1h-1v-1h-1v-1h-1v-1h-1z" fill="#000"/>
<text transform="translate(15,15) scale(1.0000,1.0)" fill="#000" stroke="#000" stroke-width="0.2" font-size="9.5" text-anchor="start" >USOil-,H4</text>
<text transform="translate(63,15) scale(0.985,1)" fill="#000" stroke="#000" stroke-width="0.2" font-size="9.5">71.100 71.120 71.020 71.050</text>
<text transform="translate(3,477) scale(1.0000,1.0)" fill="#000" stroke="#000" stroke-width="0.2" font-size="9.5" text-anchor="start" >MACD(12,26,9) 0.4349 0.4541</text>
<text transform="translate(3,577) scale(1.0000,1.0)" fill="#000" stroke="#000" stroke-width="0.2" font-size="9.5" text-anchor="start" >RSI(14) 60.4032</text>
<text x="887" y="376" fill="#ff0000" font-size="33" style="font-family:'Liberation Sans','Noto Sans CJK SC',sans-serif"><tspan letter-spacing="1">多空转折点</tspan></text>
<text y="376" fill="#ff0000" font-size="34.5" style="font-family:'DejaVu Sans',sans-serif"><tspan x="1054">7</tspan><tspan x="1073.5">0</tspan></text>
</g>
</svg>
</body></html>
